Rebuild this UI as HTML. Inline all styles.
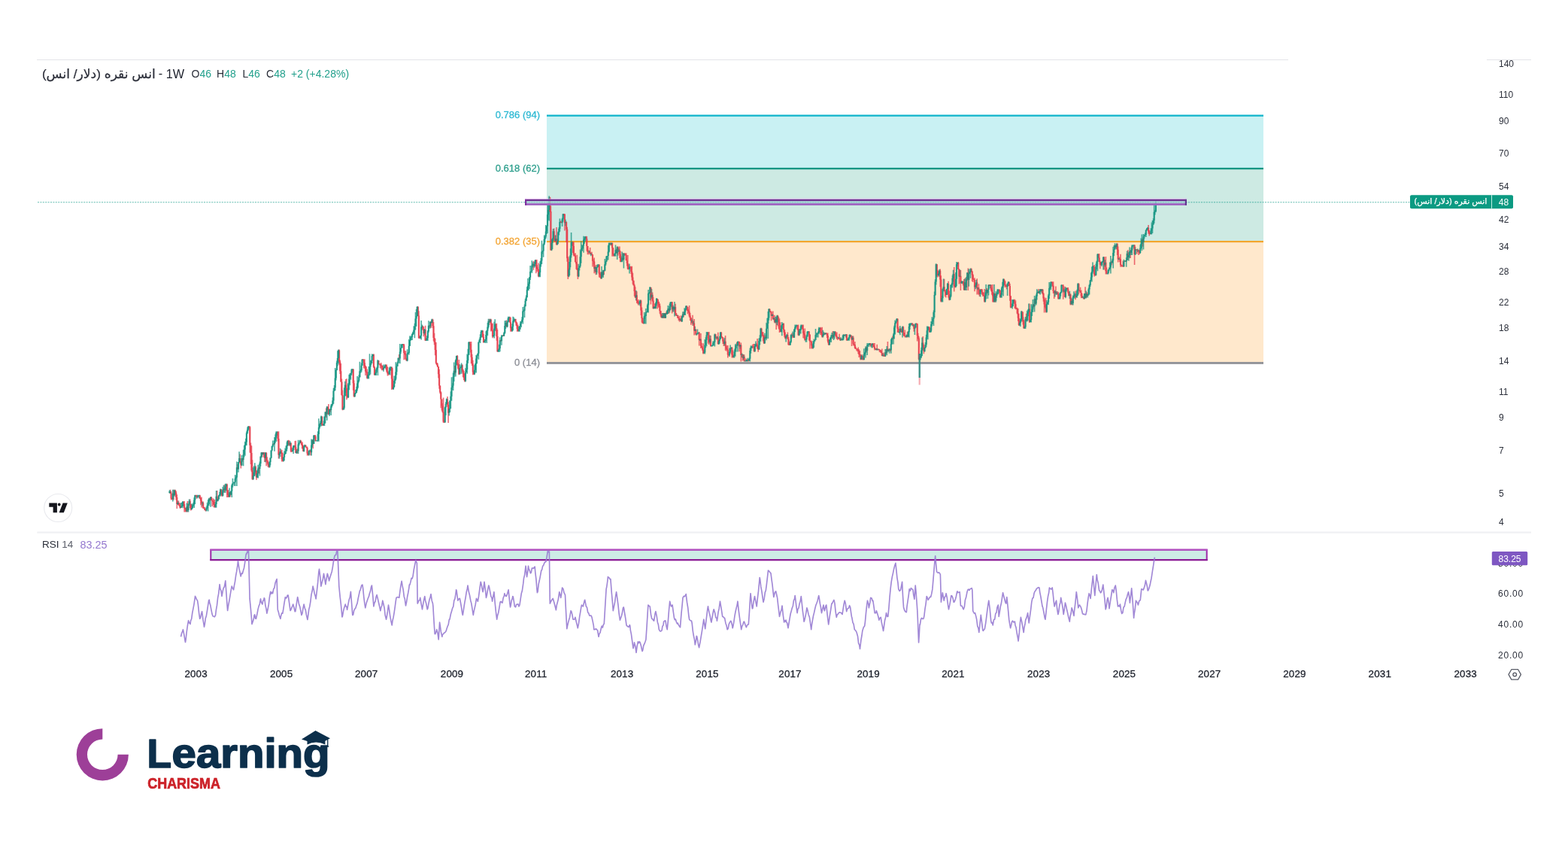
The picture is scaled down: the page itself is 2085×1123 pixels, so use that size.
<!DOCTYPE html>
<html lang="fa">
<head>
<meta charset="utf-8">
<title>انس نقره (دلار/ انس) - 1W</title>
<style>
html,body{margin:0;padding:0;background:#fff;}
body{width:2085px;height:1123px;position:relative;overflow:hidden;font-family:"Liberation Sans","DejaVu Sans",sans-serif;}
svg{position:absolute;left:0;top:0;display:block;}
svg text{font-family:"Liberation Sans","DejaVu Sans",sans-serif;}
.ax text{font-size:12px;fill:#2b2f3a;}
.tm text{font-size:13.4px;fill:#1c202b;stroke:#1c202b;stroke-width:.3px;text-anchor:middle;letter-spacing:.15px;}
.fa{-webkit-text-stroke:.25px currentColor;position:absolute;white-space:nowrap;direction:rtl;unicode-bidi:isolate;font-family:"Liberation Sans","DejaVu Sans",sans-serif;line-height:1;}
#ttl{left:55.9px;top:90.2px;width:154px;font-size:17.15px;color:#2c2f3a;text-align:left;}
#plbl{left:1876px;top:262.2px;width:106px;font-size:11px;color:#fff;text-align:center;}
</style>
</head>
<body>
<svg width="2085" height="1123" viewBox="0 0 2085 1123">
<defs><filter id="bl" x="-2%" y="-2%" width="104%" height="104%"><feGaussianBlur stdDeviation="0.7"/></filter><filter id="bl2" x="-2%" y="-5%" width="104%" height="110%"><feGaussianBlur stdDeviation="0.45"/></filter></defs>
<rect width="2085" height="1123" fill="#fff"/>
<!-- borders -->
<rect x="49" y="79" width="1664" height="1" fill="#e3e4e8"/>
<rect x="1977" y="79" width="59" height="1" fill="#e3e4e8"/>
<rect x="49.3" y="706.5" width="1986.7" height="2.2" fill="#eff0f3"/>

<!-- fib zones -->
<rect x="727" y="153.5" width="953" height="70" fill="#c9f1f3"/>
<rect x="727" y="223.5" width="953" height="97.5" fill="#cdeae3"/>
<rect x="727" y="321" width="953" height="161" fill="#ffe8cc"/>
<rect x="727" y="152.5" width="953" height="2.3" fill="#12b5cb"/>
<rect x="727" y="222.9" width="953" height="2.3" fill="#0f9683"/>
<rect x="727" y="320" width="953" height="2.2" fill="#f2a62e"/>
<rect x="727" y="481" width="953" height="2.9" fill="#939499"/>
<g font-size="13" text-anchor="end" stroke-width=".3">
<text x="718" y="157.4" fill="#2fb9d3" stroke="#2fb9d3">0.786 (94)</text>
<text x="718" y="227.6" fill="#2e9f8d" stroke="#2e9f8d">0.618 (62)</text>
<text x="718" y="325.2" fill="#f3a534" stroke="#f3a534">0.382 (35)</text>
<text x="718" y="486.3" fill="#8c8e96" stroke="#8c8e96">0 (14)</text>
</g>

<!-- last price dotted line -->
<line x1="50" y1="268.7" x2="1875" y2="268.7" stroke="#0d9a84" stroke-opacity=".45" stroke-width="1.6" stroke-dasharray="2 1.4"/>

<!-- candles -->
<g id="candles">
<g filter="url(#bl)" style="isolation:isolate">
<path d="M226.6 650.8V656.1M227.6 652.9V664.4M228.7 661.5V663.9M230.9 650.8V664.4M233.1 650.8V657.4M234.2 652.8V664.5M235.3 657.2V676.0M237.5 665.6V671.8M238.5 668.0V673.6M239.6 669.0V675.9M244.0 665.9V673.1M245.1 665.9V680.6M246.2 674.5V680.6M247.3 674.9V680.6M249.4 665.9V680.6M252.7 663.5V675.2M253.8 669.8V678.6M260.3 657.8V659.8M261.4 657.8V662.7M265.8 657.8V662.9M266.9 661.1V671.2M268.0 660.4V674.4M270.2 666.6V676.1M271.2 673.9V676.0M272.3 673.7V678.0M273.4 676.6V679.4M278.9 661.8V666.1M281.1 660.1V665.1M282.2 664.5V673.0M283.2 662.2V670.9M284.3 663.2V674.2M285.4 664.1V674.8M288.7 652.0V666.5M294.1 650.0V658.6M295.2 652.7V659.8M298.5 644.3V654.7M301.8 642.7V660.9M302.9 651.0V660.9M304.0 656.4V660.9M306.1 653.5V660.6M315.9 617.0V623.6M319.2 603.6V616.2M320.3 612.9V622.4M322.5 609.0V613.6M331.2 566.3V569.3M332.3 566.3V601.4M333.4 588.6V617.0M334.5 592.6V627.3M335.6 611.2V637.8M339.9 619.0V630.9M341.0 625.3V637.8M344.3 620.8V629.5M348.6 601.0V607.7M350.8 601.0V607.7M351.9 601.0V614.1M354.1 601.0V619.3M355.2 607.3V615.5M356.3 611.3V620.5M357.4 615.6V621.6M363.9 589.1V590.8M369.4 573.3V586.4M370.5 573.3V609.4M373.7 597.2V603.0M374.8 598.1V613.5M375.9 601.6V613.5M383.5 584.8V592.4M384.6 585.3V592.4M386.8 588.3V600.9M387.9 594.4V601.1M392.3 586.0V598.0M393.3 585.8V602.2M395.5 596.3V602.7M399.9 584.8V589.3M401.0 586.8V591.9M402.1 587.5V596.8M403.2 591.8V599.9M406.4 591.5V594.1M407.5 593.5V595.5M408.6 593.6V605.4M409.7 601.2V605.4M413.0 597.5V605.3M416.2 583.7V596.2M418.4 577.9V583.3M419.5 577.9V586.8M428.2 553.4V566.0M429.3 563.9V565.9M433.7 542.4V554.9M435.9 540.5V544.7M436.9 536.9V551.3M439.1 543.3V547.6M451.1 464.5V485.2M452.2 478.5V496.9M453.3 483.1V507.6M454.4 503.6V525.7M455.5 518.6V545.2M459.8 504.0V522.1M460.9 503.2V531.3M462.0 524.5V529.2M469.7 489.9V518.7M470.7 505.4V527.8M482.7 477.3V479.0M483.8 477.2V489.6M484.9 477.2V489.7M486.0 485.8V499.0M487.1 487.2V496.2M488.2 490.5V503.5M496.9 470.2V488.9M498.0 486.8V498.9M503.4 479.0V484.6M504.5 483.2V485.6M505.6 483.8V489.2M506.7 482.0V490.4M507.8 485.6V492.3M508.9 485.6V492.3M513.3 484.2V491.2M514.3 484.5V494.9M515.4 487.5V499.4M516.5 494.5V498.9M520.9 487.3V518.0M522.0 489.3V517.3M530.7 470.9V478.7M536.2 457.0V459.2M537.2 457.0V478.3M538.3 466.0V472.1M539.4 466.3V477.9M540.5 475.8V479.7M555.8 407.0V420.1M556.9 413.3V449.9M558.0 447.3V449.9M562.3 432.8V439.2M563.4 434.3V447.2M565.6 432.8V452.9M571.0 432.2V436.6M573.2 426.7V435.8M575.4 423.7V436.0M576.5 427.9V453.2M577.6 442.8V458.2M578.7 450.1V472.2M579.8 455.0V483.7M580.8 482.0V485.4M581.9 482.6V488.1M583.0 486.9V502.6M584.1 490.8V516.7M585.2 512.4V523.3M586.3 520.3V542.3M587.4 530.5V545.5M588.5 536.0V548.4M589.6 528.6V561.9M590.7 557.9V561.9M595.0 526.9V540.8M596.1 534.2V561.9M604.8 485.9V497.7M608.1 472.1V485.9M609.2 482.8V490.9M610.3 477.9V498.3M614.6 484.2V494.3M615.7 490.6V501.2M616.8 492.9V505.0M617.9 496.3V507.4M624.5 454.0V459.3M625.5 454.0V468.5M626.6 454.0V483.3M627.7 470.8V486.0M628.8 478.8V498.3M629.9 492.6V498.1M641.9 438.8V448.7M643.0 443.8V455.8M650.6 423.7V432.0M652.8 423.7V440.5M653.9 429.5V440.0M655.0 429.5V449.3M659.3 429.7V440.2M660.4 429.7V452.8M661.5 438.1V468.1M665.9 451.4V453.4M669.1 444.9V446.9M673.5 425.6V434.8M677.9 420.7V428.7M679.0 421.7V440.8M680.0 435.3V440.8M685.5 423.7V429.5M686.6 427.3V433.3M687.7 429.3V440.8M688.8 431.4V440.8M709.5 347.0V358.7M712.8 345.0V363.3M713.8 345.1V361.3M714.9 355.0V360.6M716.0 349.4V368.2M731.3 261.7V282.0M732.4 273.5V332.9M736.7 303.5V320.5M737.8 312.8V322.0M740.0 302.0V325.8M745.5 293.4V296.0M746.5 295.3V296.4M749.8 283.9V287.1M750.9 283.9V306.6M753.1 294.3V322.1M754.2 301.8V347.8M755.3 340.9V371.0M761.8 321.3V336.3M762.9 321.6V340.6M764.0 337.1V340.8M765.1 336.3V348.7M766.2 347.7V357.8M767.3 338.8V359.1M768.4 356.9V371.0M779.3 313.8V318.6M780.3 313.9V333.4M781.4 326.9V338.3M782.5 332.2V338.3M784.7 329.0V338.3M786.9 334.8V339.1M788.0 338.2V354.6M789.1 344.2V351.6M790.2 342.4V363.2M792.3 351.9V365.3M796.7 351.2V368.5M797.8 362.3V368.9M798.9 361.2V370.7M801.1 361.1V368.1M803.2 359.0V364.9M812.0 322.5V326.2M814.1 322.5V340.8M815.2 329.0V340.8M816.3 338.0V340.8M819.6 330.8V336.5M821.8 327.5V339.7M823.9 327.5V343.1M825.0 333.4V348.2M828.3 336.3V345.9M830.5 336.3V339.9M831.6 336.3V339.6M832.7 336.3V346.3M833.8 343.6V353.4M834.8 339.1V358.2M835.9 351.6V358.2M838.1 353.7V355.3M839.2 353.7V364.0M840.3 353.7V372.5M841.4 362.9V377.7M842.5 372.5V379.6M843.6 377.6V393.7M844.7 381.2V395.9M846.8 387.2V403.1M847.9 399.2V404.2M849.0 397.9V405.8M852.3 398.6V418.9M853.4 408.6V428.6M854.5 422.0V429.7M855.6 426.6V430.5M865.4 381.7V404.5M867.6 388.4V400.8M868.6 394.8V410.6M870.8 403.2V410.1M874.1 396.8V410.6M875.2 397.9V408.8M876.3 400.9V408.4M877.4 403.4V416.7M878.5 413.0V420.4M879.5 417.2V422.6M881.7 416.1V423.0M883.9 416.1V423.0M886.1 413.9V418.1M889.4 409.9V416.7M893.7 401.1V416.4M895.9 407.5V414.3M898.1 403.8V419.1M899.2 416.2V420.0M901.3 418.6V422.8M902.4 421.1V426.0M903.5 419.8V427.7M905.7 419.2V427.6M909.0 414.2V421.4M913.3 406.1V413.0M914.4 408.1V417.2M915.5 411.0V416.0M916.6 406.1V421.5M917.7 416.1V425.9M918.8 422.1V431.7M921.0 418.7V432.7M923.1 423.9V445.5M925.3 437.5V445.5M929.7 441.0V459.5M931.9 443.0V463.1M933.0 455.8V462.1M934.1 460.2V465.9M935.1 456.3V470.4M941.7 441.0V456.5M942.8 441.0V458.1M945.0 446.0V460.5M951.5 443.8V450.0M952.6 446.9V451.5M954.8 441.7V457.8M959.1 441.0V448.6M960.2 446.9V449.8M961.3 448.1V457.1M962.4 451.1V459.9M964.6 446.1V465.7M965.7 458.5V466.8M966.8 461.6V465.3M967.8 459.1V475.4M968.9 471.3V473.2M973.3 460.9V475.4M974.4 465.6V475.4M979.8 454.7V459.5M982.0 453.5V454.6M983.1 453.8V467.3M985.3 455.4V480.4M987.5 470.4V479.5M989.6 471.3V480.5M991.8 476.4V480.5M995.1 477.5V480.5M1000.5 458.2V462.9M1001.6 457.1V462.5M1002.7 457.1V467.7M1006.0 456.1V460.6M1007.1 450.1V463.9M1008.2 459.8V467.7M1012.5 435.8V447.5M1013.6 440.9V447.0M1014.7 441.3V453.4M1015.8 445.5V457.0M1018.0 445.6V450.1M1023.4 410.1V414.3M1024.5 412.9V415.5M1025.6 413.4V426.2M1027.8 413.4V424.7M1030.0 418.7V429.2M1032.2 421.6V438.0M1034.3 418.7V433.5M1035.4 421.2V436.8M1036.5 423.2V442.0M1037.6 428.3V441.3M1042.0 429.3V441.7M1043.1 437.7V448.3M1044.2 441.5V450.5M1047.4 441.5V450.8M1048.5 447.9V459.1M1049.6 454.8V459.1M1052.9 442.8V449.4M1055.1 442.4V448.8M1060.5 431.8V438.8M1061.6 431.5V446.3M1067.0 431.5V437.9M1068.1 431.5V449.3M1069.2 439.8V449.7M1070.3 436.6V452.7M1075.8 440.0V452.5M1076.9 444.0V463.4M1077.9 453.5V454.7M1079.0 452.5V463.4M1080.1 458.3V463.4M1091.0 434.7V445.1M1092.1 435.4V445.4M1093.2 434.7V448.4M1096.5 442.6V445.1M1098.7 442.2V443.9M1099.8 442.4V449.1M1100.8 442.5V455.5M1101.9 451.0V459.1M1107.4 440.0V450.2M1110.7 440.0V446.3M1111.7 441.9V447.8M1112.8 441.5V451.0M1113.9 448.0V452.1M1116.1 443.7V451.0M1117.2 448.6V452.7M1119.4 450.3V452.0M1122.6 444.8V446.9M1125.9 444.3V452.7M1131.4 445.3V449.4M1132.5 446.4V459.9M1134.6 446.4V459.2M1135.7 456.3V459.8M1136.8 454.0V463.5M1137.9 460.7V464.1M1139.0 463.2V466.3M1140.1 463.2V467.3M1141.2 461.4V470.3M1142.3 464.2V475.0M1143.4 466.1V473.7M1144.4 470.7V478.4M1146.6 471.3V478.4M1147.7 473.4V478.4M1152.1 460.8V468.3M1157.5 456.1V460.7M1160.8 456.1V461.9M1161.9 456.1V461.1M1163.0 456.1V465.5M1164.1 462.7V465.1M1166.2 457.8V465.5M1168.4 463.5V465.5M1169.5 463.9V467.9M1170.6 464.9V468.2M1171.7 465.4V469.2M1172.8 463.5V473.2M1175.0 468.5V474.1M1176.1 470.1V474.1M1178.2 464.2V471.0M1180.4 454.0V466.8M1183.7 463.5V467.3M1187.0 446.6V451.4M1193.5 422.9V442.0M1194.6 434.4V442.0M1197.9 435.6V441.5M1199.0 439.0V442.1M1201.1 433.6V445.8M1202.2 441.9V446.8M1203.3 438.5V448.4M1204.4 446.7V448.4M1206.6 440.7V448.4M1213.1 429.3V432.6M1215.3 430.4V440.7M1218.6 429.3V431.5M1219.7 429.8V453.5M1220.8 442.8V451.0M1221.8 447.2V478.4M1227.3 446.9V464.4M1228.4 457.7V470.2M1234.9 433.9V437.8M1236.0 434.2V442.0M1245.8 351.1V367.8M1246.9 358.7V368.4M1250.2 357.5V381.3M1251.3 366.2V401.4M1255.6 370.8V387.0M1256.7 385.0V394.3M1257.8 388.1V395.6M1261.1 373.8V395.7M1262.2 386.4V399.3M1268.7 355.0V387.5M1269.8 378.5V382.2M1274.2 348.1V358.3M1275.3 357.2V377.4M1277.4 359.0V386.0M1280.7 373.4V379.6M1281.8 370.9V386.0M1284.0 368.9V386.0M1287.3 356.6V386.0M1291.6 356.6V361.7M1292.7 359.9V374.1M1293.8 364.3V375.0M1294.9 370.2V372.4M1296.0 369.2V387.3M1299.2 370.3V391.4M1301.4 377.2V391.9M1302.5 384.3V393.9M1304.7 384.0V387.8M1305.8 384.0V391.6M1306.9 388.3V394.1M1308.0 388.6V393.8M1309.1 384.0V401.7M1312.3 383.1V390.4M1315.6 378.1V379.9M1317.8 378.1V386.7M1318.9 382.2V391.8M1320.0 378.1V401.6M1321.0 389.1V401.7M1323.2 390.0V401.7M1328.7 384.2V389.2M1329.8 385.3V395.8M1335.2 370.5V378.7M1336.3 372.7V381.9M1337.4 377.9V381.8M1338.5 378.8V384.5M1341.8 374.2V380.1M1342.9 377.0V399.8M1343.9 392.9V409.5M1348.3 397.7V401.9M1349.4 397.7V410.1M1350.5 399.3V411.2M1351.6 408.8V411.1M1352.7 408.7V417.5M1353.8 409.9V426.9M1354.8 416.7V433.0M1359.2 413.4V427.8M1360.3 414.4V431.5M1361.4 425.1V437.0M1364.7 416.7V426.7M1369.0 403.6V429.1M1374.5 404.5V408.6M1376.6 396.8V404.1M1381.0 384.0V389.9M1384.3 384.0V388.1M1386.5 384.0V391.6M1387.5 389.1V400.8M1388.6 394.7V415.4M1389.7 398.4V409.8M1390.8 395.8V415.4M1398.4 374.2V376.8M1399.5 374.2V381.0M1400.6 374.2V389.9M1401.7 386.6V397.1M1403.9 380.4V391.7M1406.1 387.2V391.3M1407.2 388.1V397.8M1412.6 378.6V380.3M1413.7 378.1V397.8M1415.9 380.8V394.8M1419.2 382.1V385.5M1420.3 382.1V390.3M1421.3 387.5V393.4M1423.5 390.2V405.6M1425.7 397.3V405.6M1430.1 386.4V398.2M1434.4 376.2V391.2M1435.5 384.9V387.2M1436.6 381.8V389.0M1437.7 385.5V396.3M1438.8 390.0V395.9M1441.0 394.9V397.8M1443.1 381.3V396.2M1445.3 388.2V395.3M1454.0 353.3V355.1M1455.1 352.1V367.4M1456.2 364.6V366.4M1460.6 337.0V343.1M1461.7 337.0V348.2M1462.8 346.3V357.2M1463.9 348.1V352.7M1468.2 340.9V358.6M1470.4 340.9V364.4M1471.5 355.5V364.5M1478.0 347.3V352.6M1483.5 325.8V329.7M1485.7 323.3V338.9M1486.7 327.4V348.4M1488.9 341.3V348.2M1490.0 337.8V354.7M1491.1 351.5V354.7M1492.2 352.2V354.6M1493.3 346.5V354.7M1496.6 346.0V347.6M1499.8 332.2V345.5M1503.1 332.0V343.1M1508.6 325.2V352.0M1510.7 331.3V332.9M1511.8 330.9V337.5M1514.0 331.7V339.0M1515.1 332.9V338.0M1519.5 316.8V327.7M1527.1 298.9V310.8M1528.2 306.1V313.5M1529.3 309.4V311.5" stroke="#e63a49" stroke-width="1.6" fill="none" opacity=".75"/>
<path d="M225.5 651.2V655.7M229.8 650.8V666.4M232.0 650.8V659.8M236.4 665.5V671.1M240.7 667.9V675.1M241.8 668.0V673.7M242.9 665.9V675.2M248.4 668.6V680.6M250.5 669.3V680.6M251.6 663.5V671.9M254.9 669.4V677.2M256.0 669.5V676.0M257.1 667.7V673.2M258.2 661.2V674.9M259.3 657.8V670.1M262.5 657.8V662.2M263.6 657.8V660.2M264.7 657.8V662.3M269.1 666.8V672.2M274.5 673.6V679.4M275.6 667.8V676.7M276.7 664.2V679.4M277.8 661.7V672.3M280.0 660.1V673.7M286.5 667.3V674.8M287.6 651.9V674.8M289.8 662.8V666.2M290.9 658.0V663.8M292.0 653.7V659.5M293.1 649.6V659.8M296.3 647.0V659.8M297.4 644.8V654.8M299.6 642.7V655.1M300.7 642.7V652.5M305.0 648.4V660.9M307.2 652.3V658.2M308.3 643.2V660.9M309.4 635.8V647.8M310.5 640.3V642.4M311.6 640.7V645.7M312.7 631.0V645.9M313.8 632.3V638.7M314.9 613.5V645.9M317.0 613.9V627.7M318.1 600.3V614.3M321.4 604.9V619.2M323.6 597.7V619.2M324.7 592.1V607.5M325.8 586.7V605.8M326.8 582.7V592.4M327.9 573.2V592.1M329.0 567.7V576.8M330.1 566.3V572.6M336.7 621.3V637.8M337.7 619.2V632.8M338.8 615.2V633.1M342.1 624.7V634.9M343.2 617.8V635.4M345.4 613.4V632.5M346.5 606.2V619.8M347.6 601.0V608.4M349.7 601.0V604.5M353.0 601.0V614.2M358.5 612.9V621.6M359.5 608.3V618.3M360.6 598.6V609.3M361.7 592.8V599.6M362.8 585.6V594.3M365.0 580.9V599.7M366.1 577.3V588.8M367.2 573.3V587.0M368.3 573.3V578.9M371.5 601.0V609.5M372.6 595.7V607.1M377.0 607.3V613.5M378.1 599.2V612.3M379.2 595.4V604.0M380.3 592.4V603.1M381.4 587.6V599.5M382.4 585.5V593.0M385.7 586.3V593.1M389.0 595.6V600.3M390.1 591.8V603.0M391.2 591.8V594.8M394.4 596.9V603.0M396.6 584.8V603.0M397.7 588.3V592.2M398.8 584.8V588.4M404.2 592.3V600.5M405.3 590.7V594.5M410.8 598.6V605.4M411.9 597.5V600.2M414.1 583.4V605.4M415.1 583.9V594.6M417.3 577.9V590.1M420.6 585.3V586.1M421.7 585.5V586.8M422.8 573.2V586.8M423.9 556.2V586.8M425.0 562.9V569.8M426.0 559.5V566.4M427.1 552.4V566.5M430.4 559.3V566.0M431.5 553.4V566.0M432.6 547.3V562.6M434.8 539.7V558.7M438.0 543.6V552.9M440.2 537.4V552.1M441.3 536.7V541.5M442.4 528.3V538.7M443.5 515.9V536.7M444.6 512.0V519.7M445.7 489.1V519.0M446.8 490.7V505.4M447.9 479.4V492.2M448.9 466.2V486.6M450.0 464.5V483.6M456.6 540.2V544.7M457.7 515.2V544.3M458.8 506.8V526.4M463.1 508.9V529.0M464.2 497.7V518.2M465.3 496.1V512.3M466.4 495.6V504.8M467.5 489.9V498.9M468.6 489.9V494.7M471.8 522.4V527.8M472.9 518.0V523.8M474.0 513.7V522.3M475.1 500.1V519.6M476.2 505.1V515.6M477.3 498.2V507.7M478.4 480.7V501.5M479.5 490.6V495.7M480.6 482.5V494.8M481.6 477.2V485.9M489.3 497.4V503.5M490.4 487.0V503.5M491.5 470.2V498.9M492.5 478.8V497.6M493.6 478.4V485.1M494.7 470.2V482.9M495.8 471.0V473.7M499.1 494.6V498.9M500.2 489.6V498.9M501.3 487.6V494.4M502.4 478.1V498.9M510.0 484.6V493.8M511.1 487.0V489.3M512.2 484.2V489.5M517.6 488.2V497.7M518.7 486.9V498.6M519.8 487.3V492.6M523.1 510.7V518.0M524.2 499.4V514.9M525.3 499.5V509.8M526.3 481.2V505.2M527.4 484.1V498.4M528.5 480.4V487.0M529.6 475.6V483.2M531.8 457.0V483.2M532.9 462.2V470.2M534.0 457.0V462.5M535.1 457.0V462.6M541.6 464.2V480.2M542.7 467.8V471.1M543.8 450.9V471.6M544.9 446.5V460.1M546.0 446.2V453.0M547.1 446.8V451.9M548.1 443.2V452.0M549.2 440.7V445.1M550.3 433.3V444.4M551.4 429.7V449.2M552.5 414.9V438.4M553.6 411.0V433.8M554.7 407.0V420.7M559.0 445.8V449.9M560.1 425.9V451.6M561.2 431.4V435.7M564.5 437.1V445.3M566.7 449.6V452.9M567.8 446.3V452.9M568.9 439.1V452.9M569.9 426.3V442.0M572.1 427.2V436.6M574.3 423.7V429.3M591.7 540.6V561.9M592.8 534.2V552.0M593.9 529.6V536.9M597.2 542.6V552.5M598.3 532.3V548.1M599.4 520.2V542.9M600.5 501.2V532.8M601.6 509.2V517.9M602.6 495.5V518.9M603.7 481.5V506.9M605.9 477.5V500.6M607.0 472.7V484.9M611.4 484.2V497.5M612.5 486.9V489.4M613.6 482.5V496.7M619.0 489.0V507.4M620.1 483.4V494.9M621.2 470.4V496.7M622.3 463.8V482.7M623.4 454.0V472.1M631.0 485.2V498.3M632.1 482.4V495.3M633.2 472.0V495.6M634.3 471.3V483.3M635.4 469.5V472.8M636.4 454.3V477.7M637.5 450.2V454.8M638.6 444.3V456.0M639.7 438.8V449.0M640.8 438.8V442.0M644.1 452.8V455.1M645.2 450.7V456.0M646.3 440.3V454.5M647.3 438.7V456.0M648.4 428.9V446.3M649.5 423.7V436.6M651.7 423.7V429.1M656.1 445.0V447.5M657.2 427.6V449.5M658.2 424.3V439.5M662.6 464.2V467.7M663.7 457.8V468.1M664.8 448.2V467.2M667.0 444.9V458.7M668.1 445.6V447.5M670.2 441.2V446.9M671.3 426.2V443.7M672.4 425.9V437.0M674.6 426.6V435.3M675.7 420.7V428.3M676.8 420.7V426.6M681.1 430.3V440.8M682.2 420.7V439.2M683.3 421.8V428.6M684.4 423.7V426.9M689.9 433.7V440.8M691.0 433.3V440.8M692.0 427.1V437.8M693.1 426.7V434.9M694.2 421.2V428.4M695.3 408.0V430.5M696.4 411.3V414.5M697.5 404.4V421.9M698.6 397.0V407.3M699.7 392.6V400.2M700.8 381.2V395.3M701.9 370.1V386.3M702.9 375.0V386.3M704.0 368.0V384.1M705.1 353.0V371.9M706.2 360.1V361.5M707.3 346.3V363.1M708.4 348.4V355.4M710.6 347.9V355.8M711.7 345.0V354.2M717.1 360.5V368.2M718.2 347.3V368.2M719.3 343.1V354.6M720.4 319.8V350.9M721.5 333.1V337.4M722.6 323.6V341.7M723.7 312.6V325.8M724.7 312.6V322.2M725.8 298.9V316.7M726.9 299.9V310.9M728.0 270.5V309.9M729.1 270.8V292.6M730.2 260.5V293.4M733.5 317.9V333.3M734.6 316.3V331.0M735.6 304.1V320.2M738.9 312.6V321.0M741.1 317.5V325.8M742.2 307.6V324.3M743.3 301.9V312.5M744.4 290.5V307.8M747.6 289.7V301.0M748.7 283.9V294.6M752.0 291.8V300.3M756.4 356.4V368.2M757.4 340.8V366.0M758.5 330.3V355.2M759.6 309.0V342.5M760.7 321.3V326.6M769.4 350.8V368.2M770.5 353.3V359.4M771.6 331.6V355.4M772.7 320.5V349.8M773.8 325.0V333.8M774.9 325.8V330.9M776.0 313.8V335.8M777.1 314.5V324.0M778.2 313.9V320.8M783.6 332.9V336.3M785.8 336.2V340.3M791.2 354.1V361.0M793.4 354.7V364.9M794.5 351.3V356.1M795.6 351.2V355.0M800.0 354.1V370.7M802.1 358.7V369.0M804.3 344.0V360.6M805.4 346.4V353.1M806.5 340.1V348.2M807.6 340.0V345.7M808.7 326.0V345.5M809.8 322.6V335.6M810.9 322.5V325.5M813.0 322.5V326.2M817.4 336.2V340.8M818.5 325.5V340.8M820.7 327.5V345.0M822.9 330.4V334.9M826.1 340.6V348.2M827.2 334.5V348.2M829.4 336.3V356.6M837.0 350.5V363.4M845.8 386.1V399.2M850.1 400.6V405.0M851.2 398.6V406.7M856.7 415.1V430.5M857.7 417.7V424.1M858.8 410.0V430.5M859.9 413.8V415.6M861.0 403.6V415.6M862.1 385.0V415.6M863.2 387.9V390.7M864.3 381.1V399.2M866.5 384.0V397.2M869.7 407.3V410.6M871.9 401.5V410.6M873.0 396.1V406.2M880.6 416.1V423.0M882.8 416.1V423.0M885.0 416.1V423.0M887.2 412.3V418.1M888.3 406.0V417.0M890.4 403.7V415.5M891.5 401.1V412.0M892.6 401.1V408.2M894.8 405.2V414.5M897.0 401.1V420.6M900.3 418.6V419.6M904.6 423.3V426.2M906.8 420.0V428.0M907.9 414.3V422.3M910.1 409.3V419.0M911.2 410.2V418.9M912.2 406.1V412.1M919.9 423.7V429.3M922.1 426.4V432.7M924.2 433.7V440.0M926.4 442.8V445.7M927.5 437.6V444.6M928.6 441.4V444.3M930.8 450.4V453.1M936.2 465.5V469.5M937.3 450.9V470.4M938.4 448.3V462.2M939.5 441.0V460.2M940.6 441.0V445.6M943.9 445.5V456.2M946.0 458.0V460.5M947.1 459.3V460.5M948.2 453.2V459.6M949.3 453.6V459.2M950.4 443.5V460.5M953.7 446.9V450.8M955.9 452.1V458.0M956.9 446.8V456.6M958.0 441.0V451.3M963.5 448.7V459.4M970.0 462.6V473.9M971.1 458.5V469.8M972.2 461.4V463.9M975.5 471.4V475.4M976.6 464.6V475.4M977.7 457.6V473.7M978.7 456.7V467.7M980.9 453.5V467.4M984.2 458.4V463.5M986.4 469.3V474.9M988.6 471.0V478.0M990.7 479.4V480.5M992.9 477.7V480.5M994.0 475.7V480.5M996.2 475.5V479.6M997.3 462.7V480.5M998.4 459.3V469.8M999.5 459.8V463.1M1003.8 457.1V467.7M1004.9 453.4V461.0M1009.3 449.6V464.8M1010.4 445.3V458.5M1011.5 435.8V454.1M1016.9 442.7V457.0M1019.1 428.7V452.3M1020.2 422.8V436.8M1021.3 413.9V450.1M1022.4 410.1V425.8M1026.7 417.4V419.9M1028.9 422.0V425.6M1031.1 420.8V429.5M1033.3 418.7V432.0M1038.7 432.6V441.6M1039.8 428.0V446.3M1040.9 429.8V431.7M1045.2 446.0V454.5M1046.3 443.9V448.7M1050.7 453.2V459.1M1051.8 444.3V455.7M1054.0 440.5V447.7M1056.1 436.9V448.7M1057.2 431.5V441.2M1058.3 431.5V436.6M1059.4 431.6V433.8M1062.7 437.1V446.3M1063.8 436.9V443.2M1064.9 431.5V443.6M1066.0 431.5V436.1M1071.4 449.7V454.8M1072.5 444.7V454.7M1073.6 440.0V448.1M1074.7 440.0V442.9M1081.2 453.0V463.4M1082.3 450.6V462.0M1083.4 451.6V453.7M1084.5 437.1V452.1M1085.6 441.9V448.4M1086.7 442.6V448.2M1087.8 440.6V448.4M1088.9 434.7V443.9M1089.9 435.6V442.3M1094.3 438.7V448.4M1095.4 441.0V445.9M1097.6 442.2V444.5M1103.0 451.1V459.1M1104.1 448.4V454.6M1105.2 445.1V455.1M1106.3 442.0V450.2M1108.5 440.0V452.0M1109.6 440.2V450.6M1115.0 447.8V450.1M1118.3 448.4V452.7M1120.5 445.5V452.7M1121.6 444.3V452.0M1123.7 444.6V446.6M1124.8 444.3V448.6M1127.0 449.6V452.7M1128.1 448.5V452.7M1129.2 444.7V452.7M1130.3 444.3V447.8M1133.5 446.4V451.5M1145.5 471.4V478.0M1148.8 463.2V478.4M1149.9 467.5V473.1M1151.0 460.2V475.5M1153.2 456.1V471.9M1154.3 457.8V459.8M1155.3 456.1V460.9M1156.4 456.1V459.1M1158.6 457.4V461.8M1159.7 456.1V462.6M1165.2 463.0V465.5M1167.3 463.5V465.5M1173.9 469.4V473.4M1177.2 464.0V474.1M1179.3 460.0V472.2M1181.5 464.1V467.4M1182.6 463.1V469.8M1184.8 450.8V469.8M1185.9 448.6V458.1M1188.1 442.7V457.6M1189.1 432.7V450.6M1190.2 425.6V444.4M1191.3 427.1V430.2M1192.4 422.9V427.3M1195.7 440.8V443.0M1196.8 433.0V445.2M1200.0 433.6V448.4M1205.5 444.6V448.4M1207.7 440.1V447.5M1208.8 430.0V448.4M1209.9 429.3V438.1M1210.9 429.3V431.9M1212.0 429.3V432.4M1214.2 430.7V434.0M1216.4 431.4V444.9M1217.5 429.5V435.6M1222.9 474.6V478.4M1224.0 473.0V478.4M1225.1 461.8V476.0M1226.2 448.6V473.1M1229.5 462.0V467.7M1230.6 455.0V462.9M1231.7 444.7V460.7M1232.7 433.6V451.1M1233.8 433.4V451.2M1237.1 436.0V442.0M1238.2 427.1V441.6M1239.3 421.2V433.6M1240.4 422.3V430.7M1241.5 412.4V433.0M1242.6 387.6V422.1M1243.6 371.2V393.0M1244.7 350.3V378.6M1248.0 362.1V366.4M1249.1 358.1V367.9M1252.4 393.0V401.4M1253.5 383.3V401.4M1254.6 370.6V387.3M1258.9 383.7V392.0M1260.0 375.9V384.5M1263.3 391.5V399.1M1264.4 378.0V395.3M1265.5 375.9V382.2M1266.5 365.8V382.4M1267.6 358.8V374.6M1270.9 362.1V382.2M1272.0 348.1V380.2M1273.1 348.7V353.8M1276.4 358.5V368.1M1278.5 373.0V376.4M1279.6 373.6V377.2M1282.9 370.3V386.0M1285.1 367.8V386.0M1286.2 362.1V372.7M1288.3 357.5V380.7M1289.4 360.4V364.2M1290.5 356.6V369.8M1297.1 376.4V384.2M1298.2 371.7V382.2M1300.3 382.3V385.2M1303.6 384.4V394.4M1310.1 388.6V401.7M1311.2 378.1V397.5M1313.4 385.0V396.9M1314.5 378.4V392.5M1316.7 378.1V383.2M1322.1 378.1V401.7M1324.3 387.3V401.7M1325.4 388.8V395.7M1326.5 384.0V391.3M1327.6 384.5V391.3M1330.9 389.6V395.8M1332.0 381.0V395.8M1333.0 374.8V387.7M1334.1 370.3V393.4M1339.6 376.4V392.9M1340.7 374.0V380.3M1345.0 407.4V408.9M1346.1 397.9V410.5M1347.2 398.0V407.1M1355.9 426.9V433.2M1357.0 423.2V433.9M1358.1 413.1V426.9M1362.5 432.7V437.0M1363.6 421.0V437.0M1365.7 412.8V427.4M1366.8 411.6V426.3M1367.9 403.6V416.6M1370.1 424.0V428.2M1371.2 404.2V428.6M1372.3 407.0V420.1M1373.4 398.1V415.0M1375.6 393.1V414.6M1377.7 391.6V405.6M1378.8 384.3V398.6M1379.9 385.8V389.7M1382.1 386.6V390.6M1383.2 384.0V391.4M1385.4 384.0V390.0M1391.9 399.1V415.4M1393.0 401.1V405.0M1394.1 390.8V405.3M1395.2 375.0V397.0M1396.3 377.6V385.3M1397.4 374.2V385.3M1402.8 385.4V394.4M1405.0 386.9V392.1M1408.3 394.7V397.8M1409.4 389.0V397.8M1410.4 387.7V393.8M1411.5 378.1V389.3M1414.8 383.5V388.4M1417.0 381.5V396.2M1418.1 382.5V387.5M1422.4 386.8V397.0M1424.6 395.8V404.7M1426.8 392.5V405.6M1427.9 387.3V396.7M1429.0 389.2V396.6M1431.2 390.3V395.8M1432.2 384.7V395.8M1433.3 376.2V392.9M1439.9 393.0V396.2M1442.1 390.0V397.8M1444.2 386.6V396.6M1446.4 390.7V395.4M1447.5 382.6V392.8M1448.6 377.4V391.6M1449.7 372.1V381.1M1450.8 362.4V373.9M1451.9 354.4V374.5M1453.0 348.6V363.6M1457.3 350.5V366.4M1458.4 346.4V357.9M1459.5 337.0V360.2M1464.9 347.4V354.0M1466.0 346.8V348.9M1467.1 340.9V358.5M1469.3 345.2V354.5M1472.6 362.4V364.5M1473.7 358.3V364.5M1474.8 355.5V360.5M1475.8 348.5V357.8M1476.9 339.9V363.6M1479.1 343.8V350.2M1480.2 328.1V356.6M1481.3 326.3V340.2M1482.4 323.3V331.7M1484.6 323.3V331.2M1487.8 342.8V345.2M1494.4 344.8V354.7M1495.5 346.0V347.7M1497.7 342.2V354.7M1498.7 333.6V345.9M1500.9 335.3V346.8M1502.0 328.6V343.2M1504.2 329.1V339.0M1505.3 325.2V339.0M1506.4 325.2V328.2M1507.5 325.2V330.5M1509.6 328.2V339.0M1512.9 330.5V335.1M1516.2 325.3V337.0M1517.3 316.4V330.8M1518.4 311.5V333.3M1520.5 310.9V331.6M1521.6 311.7V317.3M1522.7 309.4V313.7M1523.8 305.6V315.1M1524.9 302.9V306.8M1526.0 301.7V305.5M1530.4 303.2V311.5M1531.4 295.6V311.5M1532.5 292.9V310.1M1533.6 290.2V298.7M1534.7 271.7V296.8M1535.8 279.0V285.5M1536.9 266.4V282.2" stroke="#0f927f" stroke-width="1.6" fill="none" opacity=".75"/>
<path d="M226.6 653.0V655.4M227.6 655.4V662.6M228.7 662.6V663.4M230.9 655.8V658.2M233.1 651.8V654.9M234.2 654.9V661.0M235.3 661.0V670.0M237.5 668.0V670.9M238.5 670.9V672.1M239.6 672.1V675.0M244.0 666.9V669.9M245.1 669.9V674.9M246.2 674.9V677.1M247.3 677.1V679.6M249.4 673.6V677.9M252.7 665.9V670.6M253.8 670.6V677.2M260.3 658.0V658.6M261.4 658.6V660.5M265.8 658.4V662.3M266.9 662.3V665.6M268.0 665.6V669.2M270.2 668.5V675.3M271.2 675.1V675.7M272.3 675.7V678.0M273.4 677.9V678.5M278.9 663.1V664.2M281.1 661.1V664.7M282.2 664.7V665.5M283.2 665.5V667.1M284.3 667.1V670.7M285.4 670.7V673.8M288.7 659.8V665.6M294.1 650.6V655.3M295.2 655.3V658.8M298.5 649.4V651.5M301.8 643.7V651.5M302.9 651.5V657.8M304.0 657.8V659.9M306.1 654.2V657.6M315.9 621.3V623.6M319.2 609.0V615.1M320.3 615.1V618.2M322.5 609.0V610.9M331.2 566.8V567.4M332.3 567.4V591.8M333.4 591.8V602.0M334.5 602.0V625.2M335.6 625.2V636.8M339.9 620.6V626.5M341.0 626.5V634.4M344.3 622.4V623.0M348.6 601.5V603.4M350.8 601.5V604.1M351.9 604.1V608.7M354.1 602.0V613.0M355.2 612.9V613.5M356.3 613.5V617.4M357.4 617.4V620.6M363.9 590.0V590.6M369.4 574.3V583.1M370.5 583.1V604.4M373.7 599.7V601.9M374.8 601.9V610.3M375.9 610.3V612.5M383.5 585.8V589.7M384.6 589.7V591.1M386.8 588.7V599.2M387.9 599.2V599.8M392.3 592.2V594.3M393.3 594.3V602.0M395.5 599.0V599.6M399.9 585.8V589.1M401.0 589.1V590.8M402.1 590.8V595.9M403.2 595.9V599.7M406.4 591.5V593.9M407.5 593.9V595.3M408.6 595.3V602.5M409.7 602.5V604.4M413.0 598.7V601.3M416.2 585.2V590.1M418.4 578.9V580.1M419.5 580.1V586.0M428.2 553.4V564.0M429.3 564.0V565.0M433.7 547.6V550.4M435.9 540.7V543.5M436.9 543.5V551.1M439.1 544.0V545.0M451.1 465.5V480.7M452.2 480.7V493.2M453.3 493.2V507.4M454.4 507.4V525.0M455.5 525.0V544.2M459.8 511.8V515.8M460.9 515.8V526.0M462.0 526.0V528.0M469.7 490.9V509.3M470.7 509.3V526.8M482.7 477.6V478.2M483.8 478.2V482.3M484.9 482.3V486.8M486.0 486.8V493.4M487.1 493.4V494.4M488.2 494.4V502.5M496.9 471.2V487.8M498.0 487.8V497.9M503.4 479.2V483.4M504.5 483.3V483.9M505.6 483.6V484.2M506.7 484.2V486.0M507.8 486.0V488.4M508.9 488.4V491.3M513.3 485.2V487.5M514.3 487.5V493.4M515.4 493.4V496.5M516.5 496.5V497.3M520.9 488.3V503.6M522.0 503.6V517.0M530.7 475.7V476.5M536.2 457.4V458.5M537.2 458.5V468.9M538.3 468.9V470.8M539.4 470.8V477.3M540.5 477.3V479.2M555.8 408.0V419.5M556.9 419.5V448.9M558.0 448.9V449.5M562.3 433.8V437.9M563.4 437.9V442.9M565.6 437.9V452.4M571.0 432.8V433.8M573.2 427.8V429.3M575.4 424.7V433.3M576.5 433.3V448.9M577.6 448.9V454.8M578.7 454.8V464.9M579.8 464.9V482.2M580.8 482.2V484.8M581.9 484.8V487.5M583.0 487.5V497.3M584.1 497.3V512.5M585.2 512.5V521.5M586.3 521.5V530.6M587.4 530.6V539.2M588.5 539.2V547.3M589.6 547.3V560.5M590.7 560.4V561.0M595.0 530.6V537.9M596.1 537.9V548.8M604.8 492.8V495.2M608.1 473.1V484.3M609.2 484.3V489.4M610.3 489.4V497.3M614.6 485.2V491.4M615.7 491.4V496.6M616.8 496.6V502.1M617.9 502.1V506.4M624.5 455.0V457.1M625.5 457.1V464.7M626.6 464.7V474.8M627.7 474.8V483.3M628.8 483.3V494.5M629.9 494.5V497.3M641.9 439.8V447.8M643.0 447.8V455.0M650.6 426.7V427.7M652.8 424.7V430.5M653.9 430.5V438.8M655.0 438.8V447.3M659.3 430.7V435.9M660.4 435.9V447.0M661.5 447.0V467.1M665.9 452.2V453.3M669.1 445.8V446.4M673.5 428.9V434.0M677.9 421.7V428.2M679.0 428.2V436.0M680.0 436.0V439.8M685.5 424.1V428.1M686.6 428.1V432.6M687.7 432.6V437.0M688.8 437.0V439.8M709.5 350.9V353.7M712.8 346.0V352.3M713.8 352.3V357.1M714.9 357.1V358.1M716.0 358.1V367.2M731.3 262.7V280.9M732.4 280.9V332.3M736.7 307.3V317.4M737.8 317.4V320.1M740.0 317.3V324.8M745.5 294.7V295.3M746.5 295.3V296.0M749.8 284.3V284.9M750.9 284.9V296.2M753.1 295.2V304.8M754.2 304.8V343.2M755.3 343.2V367.2M761.8 321.7V326.9M762.9 326.9V338.7M764.0 338.7V339.8M765.1 339.8V348.0M766.2 348.0V350.7M767.3 350.7V358.6M768.4 358.6V367.2M779.3 314.8V317.3M780.3 317.3V327.1M781.4 327.1V334.8M782.5 334.7V335.3M784.7 334.8V337.8M786.9 337.2V338.3M788.0 338.3V346.8M789.1 346.8V347.6M790.2 347.6V357.0M792.3 355.5V362.2M796.7 351.7V363.4M797.8 363.4V365.5M798.9 365.5V369.7M801.1 361.7V365.9M803.2 359.2V359.8M812.0 323.0V324.8M814.1 323.0V329.4M815.2 329.4V338.4M816.3 338.4V339.8M819.6 332.3V336.4M821.8 328.5V333.2M823.9 332.8V337.7M825.0 337.7V347.7M828.3 342.7V345.0M830.5 336.9V337.5M831.6 337.5V338.7M832.7 338.7V346.2M833.8 346.2V349.9M834.8 349.9V357.2M835.9 357.2V357.8M838.1 354.4V355.0M839.2 355.0V360.9M840.3 360.9V368.5M841.4 368.5V373.3M842.5 373.3V379.3M843.6 379.3V387.1M844.7 387.1V395.3M846.8 392.2V400.0M847.9 400.0V402.1M849.0 402.1V403.3M852.3 399.6V412.6M853.4 412.6V423.1M854.5 423.1V429.5M855.6 429.5V430.1M865.4 382.1V395.2M867.6 391.8V399.6M868.6 399.6V410.1M870.8 407.4V409.6M874.1 397.1V400.8M875.2 400.8V403.5M876.3 403.5V406.4M877.4 406.4V413.2M878.5 413.2V417.9M879.5 417.9V422.0M881.7 419.4V421.5M883.9 416.6V422.5M886.1 416.5V417.1M889.4 410.3V413.0M893.7 401.5V411.2M895.9 407.6V411.5M898.1 408.0V416.2M899.2 416.2V419.6M901.3 419.0V422.7M902.4 422.6V423.2M903.5 423.2V425.6M905.7 424.7V427.0M909.0 417.6V418.5M913.3 407.1V408.2M914.4 408.2V412.7M915.5 412.7V414.3M916.6 414.3V419.6M917.7 419.6V422.3M918.8 422.3V426.6M921.0 426.3V429.9M923.1 429.4V439.6M925.3 437.8V444.5M929.7 442.0V451.8M931.9 450.8V459.8M933.0 459.8V461.9M934.1 461.9V464.3M935.1 464.3V469.4M941.7 442.0V449.7M942.8 449.7V454.5M945.0 450.4V460.0M951.5 444.5V447.9M952.6 447.9V449.3M954.8 448.5V457.0M959.1 442.0V448.0M960.2 448.0V449.0M961.3 449.0V453.7M962.4 453.7V457.0M964.6 453.8V459.5M965.7 459.5V463.6M966.8 463.6V464.7M967.8 464.7V471.5M968.9 471.4V472.0M973.3 461.9V471.4M974.4 471.4V474.4M979.8 458.9V459.5M982.0 453.9V454.5M983.1 454.5V460.4M985.3 458.5V471.9M987.5 471.0V475.7M989.6 473.7V479.7M991.8 479.3V480.0M995.1 478.0V479.5M1000.5 460.0V460.6M1001.6 460.5V461.1M1002.7 461.1V466.7M1006.0 457.5V458.1M1007.1 458.1V462.4M1008.2 462.4V464.5M1012.5 436.8V441.8M1013.6 441.8V444.7M1014.7 444.7V446.8M1015.8 446.8V456.0M1018.0 448.3V450.0M1023.4 411.1V414.2M1024.5 414.1V414.7M1025.6 414.7V419.7M1027.8 417.9V423.7M1030.0 423.0V428.2M1032.2 424.6V428.6M1034.3 419.7V424.8M1035.4 424.8V428.5M1036.5 428.5V437.9M1037.6 437.9V441.0M1042.0 430.3V438.5M1043.1 438.5V445.6M1044.2 445.6V449.6M1047.4 445.3V450.7M1048.5 450.7V458.1M1049.6 458.0V458.6M1052.9 445.3V445.9M1055.1 445.3V448.7M1060.5 432.3V437.7M1061.6 437.7V445.3M1067.0 432.5V436.7M1068.1 436.7V443.1M1069.2 443.1V444.9M1070.3 444.9V451.7M1075.8 440.7V445.1M1076.9 445.1V453.6M1077.9 453.4V454.0M1079.0 454.0V459.2M1080.1 459.2V462.4M1091.0 435.7V440.4M1092.1 440.4V443.0M1093.2 443.0V447.4M1096.5 442.7V444.2M1098.7 442.6V443.2M1099.8 443.2V445.9M1100.8 445.9V453.4M1101.9 453.4V458.1M1107.4 445.3V448.3M1110.7 441.0V444.5M1111.7 444.5V446.8M1112.8 446.8V449.3M1113.9 449.1V449.7M1116.1 449.1V450.8M1117.2 450.8V452.2M1119.4 451.0V451.7M1122.6 444.8V445.5M1125.9 444.6V452.2M1131.4 445.3V447.4M1132.5 447.4V451.4M1134.6 448.8V456.9M1135.7 456.9V458.1M1136.8 458.1V462.4M1137.9 462.4V463.4M1139.0 463.2V463.8M1140.1 463.8V464.5M1141.2 464.5V466.7M1142.3 466.7V471.0M1143.4 471.0V472.2M1144.4 472.2V477.4M1146.6 473.0V475.0M1147.7 475.0V477.9M1152.1 462.3V466.1M1157.5 456.3V459.2M1160.8 457.1V459.3M1161.9 459.3V460.8M1163.0 460.8V463.7M1164.1 463.7V464.5M1166.2 463.6V465.0M1168.4 464.2V464.8M1169.5 464.6V465.2M1170.6 465.2V466.6M1171.7 466.6V468.9M1172.8 468.9V472.7M1175.0 471.8V473.1M1176.1 473.0V473.6M1178.2 468.1V468.8M1180.4 463.4V466.6M1183.7 464.5V465.4M1187.0 449.5V450.1M1193.5 423.9V436.8M1194.6 436.8V441.5M1197.9 437.1V439.8M1199.0 439.8V441.6M1201.1 434.6V442.1M1202.2 442.1V446.4M1203.3 446.4V447.1M1204.4 447.1V447.9M1206.6 445.2V447.4M1213.1 429.7V432.3M1215.3 431.9V436.8M1218.6 429.9V430.5M1219.7 430.5V446.0M1220.8 446.0V449.6M1221.8 449.6V477.4M1227.3 455.4V460.3M1228.4 460.3V466.7M1234.9 434.6V435.7M1236.0 435.7V441.0M1245.8 351.3V359.9M1246.9 359.9V366.2M1250.2 359.8V371.4M1251.3 371.4V400.4M1255.6 381.2V385.4M1256.7 385.4V388.6M1257.8 388.6V391.9M1261.1 376.9V391.5M1262.2 391.5V398.3M1268.7 364.1V380.2M1269.8 380.2V381.2M1274.2 349.1V357.8M1275.3 357.8V367.4M1277.4 366.8V376.4M1280.7 374.1V376.7M1281.8 376.7V385.0M1284.0 375.2V382.1M1287.3 362.5V372.1M1291.6 357.6V360.7M1292.7 360.7V365.6M1293.8 365.6V371.3M1294.9 371.3V371.9M1296.0 371.9V381.5M1299.2 375.2V383.2M1301.4 382.3V390.7M1302.5 390.5V391.1M1304.7 384.7V385.3M1305.8 385.3V388.8M1306.9 388.8V392.0M1308.0 392.0V392.8M1309.1 392.8V400.7M1312.3 385.1V389.1M1315.6 378.6V379.5M1317.8 379.0V385.1M1318.9 385.1V388.0M1320.0 388.0V393.4M1321.0 393.4V400.7M1323.2 390.3V399.7M1328.7 385.0V386.0M1329.8 386.0V394.8M1335.2 371.3V373.7M1336.3 373.7V379.5M1337.4 379.4V380.0M1338.5 380.0V381.1M1341.8 375.2V379.9M1342.9 379.9V393.6M1343.9 393.6V408.5M1348.3 398.7V401.1M1349.4 401.1V404.2M1350.5 404.2V409.4M1351.6 409.4V410.5M1352.7 410.5V416.5M1353.8 416.5V422.7M1354.8 422.7V432.0M1359.2 414.4V421.2M1360.3 421.2V426.6M1361.4 426.6V436.0M1364.7 423.5V426.1M1369.0 410.5V428.1M1374.5 404.6V407.2M1376.6 397.4V403.4M1381.0 388.1V389.4M1384.3 384.5V386.5M1386.5 385.0V390.2M1387.5 390.2V396.4M1388.6 396.4V404.6M1389.7 404.6V408.0M1390.8 408.0V414.4M1398.4 374.7V375.3M1399.5 375.3V379.8M1400.6 379.8V387.0M1401.7 387.0V389.4M1403.9 387.2V389.9M1406.1 388.9V390.6M1407.2 390.6V396.8M1412.6 378.9V379.5M1413.7 379.5V387.2M1415.9 386.5V394.8M1419.2 383.1V384.6M1420.3 384.6V388.5M1421.3 388.5V392.9M1423.5 391.5V404.6M1425.7 400.1V403.0M1430.1 391.2V394.8M1434.4 377.2V385.8M1435.5 385.8V386.4M1436.6 386.4V388.9M1437.7 388.9V393.4M1438.8 393.4V395.8M1441.0 395.3V396.8M1443.1 390.1V395.5M1445.3 389.9V392.9M1454.0 353.7V354.9M1455.1 354.9V364.8M1456.2 364.8V365.4M1460.6 338.0V342.4M1461.7 342.4V348.1M1462.8 348.1V351.7M1463.9 351.5V352.1M1468.2 341.9V352.2M1470.4 348.8V360.2M1471.5 360.2V363.5M1478.0 348.3V348.9M1483.5 326.0V328.3M1485.7 324.3V331.8M1486.7 331.8V344.4M1488.9 343.7V344.3M1490.0 344.3V352.3M1491.1 352.3V352.9M1492.2 352.9V353.7M1493.3 353.6V354.2M1496.6 347.1V347.7M1499.8 337.0V341.9M1503.1 334.1V335.7M1508.6 325.7V338.0M1510.7 331.3V332.1M1511.8 332.0V332.6M1514.0 332.2V334.5M1515.1 334.5V336.0M1519.5 318.4V321.7M1527.1 302.7V307.8M1528.2 307.8V310.5M1529.3 310.3V310.9" stroke="#e63a49" stroke-width="2.2" fill="none" opacity=".78"/>
<path d="M225.5 655.0V653.0M229.8 663.4V655.8M232.0 658.2V651.8M236.4 670.0V668.0M240.7 675.0V672.9M241.8 673.2V672.6M242.9 672.6V666.9M248.4 679.6V673.6M250.5 677.9V670.3M251.6 670.3V665.9M254.9 677.2V675.0M256.0 675.0V671.6M257.1 671.6V670.5M258.2 670.5V664.5M259.3 664.5V658.2M262.5 660.7V660.1M263.6 660.1V658.8M264.7 659.0V658.4M269.1 669.2V668.5M274.5 678.5V675.3M275.6 675.3V671.7M276.7 671.7V670.0M277.8 670.0V663.1M280.0 664.2V661.1M286.5 673.8V670.0M287.6 670.0V659.8M289.8 665.6V663.4M290.9 663.4V658.6M292.0 658.6V657.0M293.1 657.0V650.6M296.3 658.8V650.8M297.4 650.8V649.4M299.6 651.5V646.6M300.7 646.6V643.7M305.0 659.9V654.2M307.2 657.6V652.8M308.3 652.8V644.9M309.4 644.9V642.4M310.5 642.5V641.9M311.6 641.9V640.9M312.7 640.9V636.0M313.8 636.0V634.4M314.9 634.4V621.3M317.0 623.6V614.1M318.1 614.1V609.0M321.4 618.2V609.0M323.6 610.9V604.3M324.7 604.3V597.4M325.8 597.4V591.0M326.8 591.0V587.5M327.9 587.5V575.5M329.0 575.5V571.0M330.1 571.0V566.8M336.7 636.8V632.3M337.7 632.3V627.8M338.8 627.8V620.6M342.1 634.4V629.1M343.2 629.1V622.5M345.4 623.0V616.1M346.5 616.1V606.7M347.6 606.7V601.5M349.7 603.4V601.5M353.0 608.7V602.0M358.5 620.6V614.1M359.5 614.1V608.6M360.6 608.6V598.6M361.7 598.6V592.8M362.8 592.8V590.2M365.0 590.6V585.6M366.1 585.6V581.4M367.2 581.4V575.0M368.3 575.0V574.3M371.5 604.4V602.9M372.6 602.9V599.7M377.0 612.5V607.8M378.1 607.8V603.2M379.2 603.2V600.0M380.3 600.0V596.8M381.4 596.8V591.7M382.4 591.7V585.8M385.7 591.1V588.7M389.0 599.8V598.3M390.1 598.3V592.8M391.2 592.8V592.2M394.4 602.0V599.2M396.6 599.6V590.5M397.7 590.5V588.4M398.8 588.4V585.8M404.2 599.7V593.4M405.3 593.4V591.5M410.8 604.4V599.2M411.9 599.3V598.7M414.1 601.3V591.4M415.1 591.4V585.2M417.3 590.1V578.9M420.6 586.2V585.6M421.7 585.9V585.3M422.8 585.3V577.0M423.9 577.0V568.0M425.0 568.0V564.1M426.0 564.1V561.9M427.1 561.9V553.4M430.4 565.0V563.1M431.5 563.1V553.4M432.6 553.4V547.6M434.8 550.4V540.7M438.0 551.1V544.0M440.2 545.0V539.8M441.3 539.8V537.1M442.4 537.1V532.6M443.5 532.6V519.6M444.6 519.6V515.2M445.7 515.2V502.5M446.8 502.5V491.9M447.9 491.9V482.0M448.9 482.0V476.1M450.0 476.1V465.5M456.6 544.2V542.1M457.7 542.1V526.2M458.8 526.2V511.8M463.1 528.0V510.4M464.2 510.4V503.6M465.3 503.6V497.9M466.4 497.9V496.4M467.5 496.4V491.6M468.6 491.6V490.9M471.8 526.8V522.7M472.9 522.7V521.9M474.0 521.9V517.2M475.1 517.2V509.4M476.2 509.4V505.9M477.3 505.9V501.3M478.4 501.3V493.2M479.5 493.2V492.2M480.6 492.2V485.8M481.6 485.8V477.7M489.3 502.5V498.5M490.4 498.5V494.3M491.5 494.3V487.6M492.5 487.6V483.0M493.6 483.0V479.5M494.7 479.5V473.1M495.8 473.1V471.2M499.1 497.9V496.1M500.2 496.1V491.2M501.3 491.2V488.8M502.4 488.8V479.2M510.0 491.3V488.9M511.1 488.9V487.2M512.2 487.2V485.2M517.6 497.3V492.4M518.7 492.4V489.1M519.8 489.1V488.3M523.1 517.0V514.3M524.2 514.3V506.1M525.3 506.1V503.4M526.3 503.4V494.2M527.4 494.2V486.8M528.5 486.8V482.2M529.6 482.2V475.7M531.8 476.5V467.6M532.9 467.6V462.4M534.0 462.4V458.0M535.1 458.0V457.4M541.6 479.2V469.7M542.7 469.7V469.0M543.8 469.0V459.7M544.9 459.7V451.9M546.0 451.9V448.5M547.1 448.5V447.8M548.1 447.8V444.0M549.2 444.0V441.7M550.3 441.7V438.5M551.4 438.5V433.8M552.5 433.8V423.5M553.6 423.5V420.0M554.7 420.0V408.0M559.0 449.5V446.3M560.1 446.3V434.4M561.2 434.4V433.8M564.5 442.9V437.9M566.7 452.5V451.9M567.8 451.9V449.2M568.9 449.2V440.2M569.9 440.2V432.8M572.1 433.8V427.8M574.3 429.3V424.7M591.7 561.0V541.5M592.8 541.5V536.7M593.9 536.7V530.6M597.2 548.8V543.6M598.3 543.6V532.5M599.4 532.5V526.7M600.5 526.7V515.0M601.6 515.0V512.5M602.6 512.5V500.7M603.7 500.7V492.8M605.9 495.2V479.1M607.0 479.1V473.1M611.4 497.3V489.1M612.5 489.1V488.4M613.6 488.4V485.2M619.0 506.4V494.8M620.1 494.8V490.9M621.2 490.9V478.9M622.3 478.9V471.4M623.4 471.4V455.0M631.0 497.3V491.8M632.1 491.8V483.8M633.2 483.8V476.6M634.3 476.6V472.7M635.4 472.7V469.8M636.4 469.8V454.7M637.5 454.7V451.9M638.6 451.9V447.9M639.7 447.9V441.0M640.8 441.0V439.8M644.1 455.0V453.2M645.2 453.2V451.0M646.3 451.0V445.0M647.3 445.0V439.5M648.4 439.5V434.4M649.5 434.4V426.7M651.7 427.7V424.7M656.1 447.3V445.9M657.2 445.9V436.7M658.2 436.7V430.7M662.6 467.1V464.9M663.7 464.9V462.9M664.8 462.9V452.2M667.0 453.3V446.6M668.1 446.6V445.9M670.2 446.4V442.4M671.3 442.4V433.1M672.4 433.1V428.9M674.6 434.0V428.3M675.7 428.3V423.0M676.8 423.0V421.7M681.1 439.8V433.9M682.2 433.9V426.6M683.3 426.6V424.7M684.4 424.7V424.1M689.9 439.8V437.6M691.0 437.6V433.4M692.0 433.4V430.0M693.1 430.0V427.7M694.2 427.7V424.8M695.3 424.8V413.6M696.4 413.6V412.7M697.5 412.7V407.2M698.6 407.2V399.8M699.7 399.8V395.3M700.8 395.3V385.3M701.9 385.3V380.1M702.9 380.1V377.2M704.0 377.2V368.7M705.1 368.7V361.1M706.2 361.2V360.6M707.3 360.6V352.7M708.4 352.7V350.9M710.6 353.7V351.1M711.7 351.1V346.0M717.1 367.2V362.1M718.2 362.1V351.3M719.3 351.3V346.6M720.4 346.6V334.6M721.5 334.6V333.6M722.6 333.6V324.8M723.7 324.8V317.9M724.7 317.9V314.4M725.8 314.4V307.6M726.9 307.6V300.6M728.0 300.6V285.3M729.1 285.3V278.9M730.2 278.9V262.7M733.5 332.3V323.0M734.6 323.0V317.6M735.6 317.6V307.3M738.9 320.1V317.3M741.1 324.8V320.8M742.2 320.8V308.8M743.3 308.8V304.1M744.4 304.1V294.9M747.6 296.0V291.4M748.7 291.4V284.4M752.0 296.2V295.2M756.4 367.2V358.5M757.4 358.5V348.0M758.5 348.0V339.2M759.6 339.2V322.3M760.7 322.3V321.7M769.4 367.2V356.1M770.5 356.1V353.6M771.6 353.6V341.3M772.7 341.3V333.5M773.8 333.5V329.8M774.9 329.8V326.4M776.0 326.4V318.7M777.1 318.7V317.1M778.2 317.1V314.8M783.6 335.4V334.8M785.8 337.8V337.2M791.2 357.0V355.5M793.4 362.2V354.9M794.5 354.9V352.2M795.6 352.3V351.7M800.0 369.7V361.7M802.1 365.9V359.2M804.3 359.8V351.3M805.4 351.3V347.4M806.5 347.4V340.7M807.6 340.7V340.1M808.7 340.1V334.6M809.8 334.6V323.5M810.9 323.6V323.0M813.0 324.8V323.0M817.4 339.8V336.9M818.5 336.9V332.3M820.7 336.4V328.5M822.9 333.4V332.8M826.1 347.8V347.2M827.2 347.2V342.7M829.4 345.0V337.1M837.0 357.8V354.7M845.8 395.3V392.2M850.1 403.5V402.9M851.2 402.9V399.6M856.7 430.1V420.2M857.7 420.5V419.9M858.8 419.9V415.1M859.9 415.1V414.5M861.0 414.5V405.5M862.1 405.5V390.1M863.2 390.1V388.9M864.3 388.9V382.1M866.5 395.2V391.8M869.7 410.1V407.4M871.9 409.6V403.4M873.0 403.4V397.1M880.6 422.0V419.4M882.8 421.5V416.6M885.0 422.5V416.6M887.2 417.1V412.6M888.3 412.6V410.3M890.4 413.0V407.1M891.5 407.1V402.1M892.6 402.1V401.5M894.8 411.2V407.6M897.0 411.5V408.0M900.3 419.6V419.0M904.6 425.6V424.7M906.8 427.0V421.8M907.9 421.8V417.6M910.1 418.5V414.6M911.2 414.6V410.7M912.2 410.7V407.1M919.9 426.9V426.3M922.1 430.0V429.4M924.2 439.6V437.8M926.4 444.5V443.3M927.5 443.3V442.6M928.6 442.6V442.0M930.8 451.8V450.8M936.2 469.4V468.5M937.3 468.5V458.6M938.4 458.6V452.1M939.5 452.1V445.4M940.6 445.4V442.0M943.9 454.5V450.4M946.0 460.3V459.7M947.1 459.9V459.3M948.2 459.3V455.4M949.3 455.4V454.5M950.4 454.5V444.5M953.7 449.3V448.5M955.9 457.0V453.2M956.9 453.2V450.4M958.0 450.4V442.0M963.5 457.0V453.8M970.0 472.0V467.5M971.1 467.5V463.0M972.2 463.0V461.9M975.5 474.4V472.9M976.6 472.9V467.2M977.7 467.2V463.0M978.7 463.0V459.0M980.9 459.5V454.0M984.2 460.4V458.5M986.4 471.9V471.0M988.6 475.7V473.7M990.7 479.9V479.3M992.9 480.0V478.4M994.0 478.6V478.0M996.2 479.5V476.7M997.3 476.7V466.0M998.4 466.0V461.8M999.5 461.8V460.3M1003.8 466.7V460.1M1004.9 460.1V457.5M1009.3 464.5V453.0M1010.4 453.0V449.3M1011.5 449.3V436.8M1016.9 456.0V448.3M1019.1 450.0V436.8M1020.2 436.8V430.0M1021.3 430.0V422.5M1022.4 422.5V411.1M1026.7 419.7V417.9M1028.9 423.7V423.0M1031.1 428.2V424.6M1033.3 428.6V419.7M1038.7 441.0V436.9M1039.8 436.9V431.6M1040.9 431.6V430.3M1045.2 449.6V446.8M1046.3 446.8V445.3M1050.7 458.6V454.4M1051.8 454.4V445.3M1054.0 445.9V445.3M1056.1 448.7V438.1M1057.2 438.1V434.8M1058.3 434.8V432.8M1059.4 432.9V432.3M1062.7 445.3V439.0M1063.8 439.3V438.7M1064.9 438.7V433.5M1066.0 433.5V432.5M1071.4 451.8V451.2M1072.5 451.2V446.9M1073.6 446.9V441.0M1074.7 441.3V440.7M1081.2 462.4V456.6M1082.3 456.6V453.5M1083.4 453.5V451.7M1084.5 451.7V445.3M1085.6 445.3V444.3M1086.7 444.3V443.3M1087.8 443.3V442.2M1088.9 442.2V436.8M1089.9 436.8V435.7M1094.3 447.4V444.4M1095.4 444.4V442.7M1097.6 444.2V442.7M1103.0 458.1V451.4M1104.1 451.4V448.8M1105.2 448.8V447.2M1106.3 447.2V445.3M1108.5 448.3V444.6M1109.6 444.6V441.0M1115.0 449.7V449.1M1118.3 452.2V451.0M1120.5 451.7V449.7M1121.6 449.7V444.8M1123.7 445.7V445.1M1124.8 445.2V444.6M1127.0 452.3V451.7M1128.1 451.7V450.2M1129.2 450.2V447.8M1130.3 447.8V445.3M1133.5 451.4V448.8M1145.5 477.4V473.0M1148.8 477.9V470.9M1149.9 470.9V468.7M1151.0 468.7V462.3M1153.2 466.1V458.6M1154.3 458.6V458.0M1155.3 458.0V456.6M1156.4 456.9V456.3M1158.6 459.2V458.6M1159.7 458.6V457.1M1165.2 464.5V463.6M1167.3 465.1V464.5M1173.9 472.7V471.8M1177.2 473.6V468.1M1179.3 468.8V463.4M1181.5 466.6V465.2M1182.6 465.2V464.5M1184.8 465.4V457.2M1185.9 457.2V449.6M1188.1 450.1V444.6M1189.1 444.6V435.3M1190.2 435.3V429.2M1191.3 429.2V427.2M1192.4 427.2V423.9M1195.7 441.6V441.0M1196.8 441.0V437.1M1200.0 441.6V434.6M1205.5 447.9V445.2M1207.7 447.4V441.5M1208.8 441.5V433.9M1209.9 433.9V430.5M1210.9 430.7V430.1M1212.0 430.3V429.7M1214.2 432.5V431.9M1216.4 436.8V435.4M1217.5 435.4V430.0M1222.9 477.4V475.2M1224.0 475.2V474.0M1225.1 474.0V465.4M1226.2 465.4V455.4M1229.5 466.7V462.1M1230.6 462.1V458.0M1231.7 458.0V448.4M1232.7 448.4V439.3M1233.8 439.3V434.6M1237.1 441.0V439.5M1238.2 439.5V431.0M1239.3 431.0V427.4M1240.4 427.4V423.9M1241.5 423.9V414.9M1242.6 414.9V391.9M1243.6 391.9V374.4M1244.7 374.4V351.3M1248.0 366.2V363.7M1249.1 363.7V359.8M1252.4 400.4V396.3M1253.5 396.3V384.3M1254.6 384.3V381.2M1258.9 391.9V384.0M1260.0 384.0V376.9M1263.3 398.3V393.8M1264.4 393.8V378.9M1265.5 378.9V378.0M1266.5 378.0V369.7M1267.6 369.7V364.1M1270.9 381.2V370.7M1272.0 370.7V351.3M1273.1 351.3V349.1M1276.4 367.4V366.8M1278.5 376.4V374.8M1279.6 374.8V374.1M1282.9 385.0V375.2M1285.1 382.1V371.3M1286.2 371.3V362.5M1288.3 372.1V363.6M1289.4 363.6V361.6M1290.5 361.6V357.6M1297.1 381.5V379.3M1298.2 379.3V375.2M1300.3 383.2V382.3M1303.6 391.1V384.9M1310.1 400.7V392.9M1311.2 392.9V385.1M1313.4 389.1V385.0M1314.5 385.0V378.6M1316.7 379.6V379.0M1322.1 400.7V390.3M1324.3 399.7V392.9M1325.4 392.9V390.2M1326.5 390.2V385.5M1327.6 385.6V385.0M1330.9 394.8V391.7M1332.0 391.7V382.9M1333.0 382.9V380.6M1334.1 380.6V371.3M1339.6 381.1V377.0M1340.7 377.0V375.2M1345.0 408.5V407.8M1346.1 407.8V403.4M1347.2 403.4V398.7M1355.9 432.0V429.1M1357.0 429.1V424.5M1358.1 424.5V414.4M1362.5 436.0V434.4M1363.6 434.4V423.5M1365.7 426.1V420.3M1366.8 420.3V414.4M1367.9 414.4V410.5M1370.1 428.1V425.0M1371.2 425.0V414.4M1372.3 414.4V411.3M1373.4 411.3V404.6M1375.6 407.2V397.4M1377.7 403.4V393.7M1378.8 393.7V388.9M1379.9 388.9V388.1M1382.1 389.4V387.0M1383.2 387.0V384.5M1385.4 386.5V385.0M1391.9 414.4V404.1M1393.0 404.1V401.8M1394.1 401.8V392.8M1395.2 392.8V383.1M1396.3 383.1V381.3M1397.4 381.3V374.7M1402.8 389.4V387.2M1405.0 389.9V388.9M1408.3 397.1V396.5M1409.4 396.5V389.9M1410.4 389.9V388.3M1411.5 388.3V379.1M1414.8 387.2V386.5M1417.0 394.8V384.4M1418.1 384.4V383.1M1422.4 392.9V391.5M1424.6 404.6V400.1M1426.8 403.0V394.8M1427.9 394.8V392.9M1429.0 392.9V391.2M1431.2 394.8V393.3M1432.2 393.3V386.4M1433.3 386.4V377.2M1439.9 395.9V395.3M1442.1 396.8V390.1M1444.2 395.5V389.9M1446.4 392.9V391.3M1447.5 391.3V384.5M1448.6 384.5V379.1M1449.7 379.1V372.6M1450.8 372.6V368.4M1451.9 368.4V361.1M1453.0 361.1V353.7M1457.3 365.4V354.2M1458.4 354.2V347.7M1459.5 347.7V338.0M1464.9 352.1V348.8M1466.0 348.8V347.7M1467.1 347.7V341.9M1469.3 352.2V348.8M1472.6 363.5V362.9M1473.7 362.9V358.4M1474.8 358.4V357.4M1475.8 357.4V355.6M1476.9 355.6V348.4M1479.1 348.9V346.3M1480.2 346.3V336.0M1481.3 336.0V331.5M1482.4 331.5V326.0M1484.6 328.3V324.3M1487.8 344.4V343.8M1494.4 354.2V347.6M1495.5 347.9V347.3M1497.7 347.7V345.8M1498.7 345.8V337.0M1500.9 341.9V338.9M1502.0 338.9V334.1M1504.2 335.7V332.7M1505.3 332.7V326.5M1506.4 326.7V326.1M1507.5 326.3V325.7M1509.6 338.0V331.3M1512.9 332.8V332.2M1516.2 336.0V329.8M1517.3 329.8V323.9M1518.4 323.9V318.4M1520.5 321.7V314.4M1521.6 314.4V312.5M1522.7 312.5V311.9M1523.8 311.9V305.8M1524.9 305.8V303.9M1526.0 303.9V302.7M1530.4 310.9V306.6M1531.4 306.6V303.6M1532.5 303.6V298.4M1533.6 298.4V292.9M1534.7 292.9V281.7M1535.8 281.7V281.1M1536.9 281.1V267.9" stroke="#0f927f" stroke-width="2.2" fill="none" opacity=".78"/>
</g>
</g>

<rect x="1221.5" y="470" width="2.5" height="32" fill="#2f8a7e" opacity=".9"/>
<rect x="1221.6" y="502" width="2.2" height="9.5" fill="#f4a3ab" opacity=".9"/>
<!-- resistance box -->
<g>
<rect x="698" y="264.9" width="880" height="7.9" fill="#9dcbd0" fill-opacity=".8"/>
<rect x="698" y="263.6" width="880" height="1.3" fill="#e9b5f2" fill-opacity=".6"/>
<rect x="698" y="264.9" width="880" height="2.2" fill="#6c2d8f"/>
<rect x="698" y="270.3" width="880" height="2.5" fill="#a05cc0"/>
<rect x="698" y="264.9" width="2.2" height="7.9" fill="#7d2f9e"/>
<rect x="1575.8" y="264.9" width="2.2" height="7.9" fill="#5f3890"/>
</g>

<!-- price axis -->
<g class="ax">
<text x="1993" y="89.3">140</text>
<text x="1993" y="129.8">110</text>
<text x="1993" y="165">90</text>
<text x="1993" y="208">70</text>
<text x="1993" y="251.6">54</text>
<text x="1993" y="295.5">42</text>
<text x="1993" y="331.7">34</text>
<text x="1993" y="365">28</text>
<text x="1993" y="406.3">22</text>
<text x="1993" y="440">18</text>
<text x="1993" y="483.7">14</text>
<text x="1993" y="525.1">11</text>
<text x="1993" y="559.4">9</text>
<text x="1993" y="602.5">7</text>
<text x="1993" y="660.1">5</text>
<text x="1993" y="698.3">4</text>
</g>
<!-- price label -->
<rect x="1875" y="259.2" width="137" height="18" rx="2" fill="#0b9a82"/>
<rect x="1983" y="259.2" width="1" height="18" fill="#bfeee3"/>
<text x="1999.5" y="272.6" font-size="12" fill="#fff" text-anchor="middle">48</text>

<!-- header -->
<g font-size="16.3" fill="#20242f">
<text x="210.8" y="103">-</text>
<text x="220.8" y="104">1W</text>
</g>
<g font-size="14">
<text x="254.5" y="102.5" fill="#2a2e39">O<tspan fill="#22a08c">46</tspan></text>
<text x="288" y="102.5" fill="#2a2e39">H<tspan fill="#22a08c">48</tspan></text>
<text x="322.5" y="102.5" fill="#2a2e39">L<tspan fill="#22a08c">46</tspan></text>
<text x="354" y="102.5" fill="#2a2e39">C<tspan fill="#22a08c">48</tspan></text>
<text x="387" y="102.5" fill="#22a08c">+2 (+4.28%)</text>
</g>

<!-- TV logo -->
<circle cx="77.2" cy="675" r="18.5" fill="#fff" stroke="#e9eaee" stroke-width="1.2"/>
<path d="M65.3 668.6h10.6v12.6h-5.3v-7.5h-5.3zM78.7 668.6a1.9 1.9 0 1 0 .01 0zM83.6 668.6h6.2l-5 12.6h-6.2z" fill="#15161d"/>

<!-- RSI pane -->
<text x="56" y="728.3" font-size="13.5" fill="#2a2e39">RSI <tspan fill="#5d606b">14</tspan></text>
<text x="106.5" y="728.5" font-size="14.4" fill="#9478cf">83.25</text>
<rect x="280.3" y="730.7" width="1324.4" height="13.4" fill="#cdece6" stroke="#9c2aa8" stroke-width="2"/>
<rect x="279.3" y="729.7" width="1326.4" height="2" fill="#b252c0"/>
<rect x="279.3" y="743.1" width="1326.4" height="2.1" fill="#8a1c94"/>
<g id="rsi">
<path d="M240.5 846.3L241.6 841.5L242.7 839.2L243.4 836.7L244.9 844.1L246.0 851.0L246.5 853.5L247.1 850.1L248.2 840.0L249.3 832.0L250.6 824.7L251.4 827.9L252.5 827.5L253.0 829.5L253.6 825.0L254.7 822.5L255.8 814.4L256.6 810.3L258.0 803.1L259.5 792.3L260.2 793.6L261.3 796.4L262.6 798.3L263.4 803.3L264.5 813.8L265.7 822.3L266.7 820.6L267.8 815.4L268.6 812.7L270.0 823.7L271.5 833.1L272.2 830.1L273.3 821.6L274.3 818.8L275.4 812.2L276.5 805.1L277.6 798.1L278.2 797.1L278.7 801.1L279.8 804.3L280.9 810.3L282.0 815.9L283.0 818.7L284.2 819.3L285.3 819.8L286.6 817.5L287.4 810.6L288.5 804.4L289.6 794.7L290.7 788.8L292.1 776.7L292.9 782.8L294.0 785.2L295.0 792.3L296.2 785.6L297.3 781.3L298.3 780.0L299.8 771.9L300.5 782.2L301.6 798.1L302.6 811.5L303.8 803.8L304.9 798.3L306.0 791.4L307.1 784.8L308.2 779.1L309.3 781.7L310.6 783.9L311.4 778.6L312.5 773.1L313.6 765.1L314.7 759.2L315.8 751.9L316.5 745.6L318.0 755.9L319.1 760.6L320.1 765.9L321.3 761.9L322.3 762.4L323.7 757.6L324.5 754.9L325.6 748.1L326.7 740.0L327.3 736.0L327.8 736.4L328.9 732.9L330.0 734.4L330.5 732.4L331.1 756.1L332.1 795.9L333.3 808.1L334.3 819.8L335.0 829.5L336.5 825.2L337.6 821.6L338.1 817.5L338.7 816.9L339.8 822.2L340.5 822.3L342.0 815.5L343.1 809.6L344.2 805.4L345.3 802.7L346.5 795.9L347.4 800.3L348.9 803.1L349.6 798.7L350.7 797.4L351.3 794.7L351.8 795.5L352.9 804.6L354.0 809.1L354.9 815.1L356.2 809.3L357.3 803.2L358.3 794.5L359.7 786.3L360.5 789.2L361.6 787.1L362.6 788.7L363.8 782.7L364.9 781.2L366.0 774.9L367.1 771.8L368.1 769.5L369.3 810.3L370.3 813.4L371.4 817.9L372.9 822.3L373.6 818.6L374.7 814.9L375.8 815.2L376.5 811.5L378.0 801.4L379.4 793.5L380.2 795.1L381.3 794.1L382.3 791.1L383.2 791.1L384.5 800.3L385.6 808.3L386.1 811.5L386.7 810.7L387.8 807.9L388.9 805.2L389.7 803.1L391.1 807.9L392.2 812.7L392.8 812.7L394.3 802.5L395.7 793.5L396.5 797.1L397.6 803.3L398.7 806.1L399.8 811.4L401.0 817.5L402.0 814.9L403.1 807.8L404.1 803.1L405.3 808.3L406.3 810.6L407.4 817.0L408.9 823.5L409.6 819.2L410.7 810.1L411.8 806.0L412.9 799.3L414.0 790.1L415.1 785.8L416.1 779.1L417.3 783.9L418.3 789.3L419.4 792.4L420.1 795.9L421.6 783.3L422.7 773.4L423.8 760.3L424.5 756.4L426.0 768.9L426.9 779.1L428.2 773.8L429.3 770.0L430.5 762.4L431.4 767.1L432.9 776.7L433.6 772.0L434.7 766.0L435.3 762.4L435.8 763.8L436.9 768.3L437.6 771.9L439.1 766.4L440.2 763.0L441.2 760.0L442.3 754.1L443.4 746.7L444.8 739.6L445.6 737.7L446.7 737.5L447.8 732.3L448.9 732.4L450.0 758.6L450.8 779.1L452.2 793.4L453.3 802.5L454.3 813.0L454.9 819.9L455.4 819.2L456.5 812.5L457.6 808.0L458.7 804.9L459.2 803.1L459.8 805.7L460.9 806.3L461.6 810.3L463.1 802.3L464.2 796.9L465.3 793.7L466.4 786.3L467.4 799.2L468.8 817.5L469.6 817.1L470.7 811.3L471.8 809.3L472.9 808.0L473.6 805.5L475.1 801.6L476.2 795.5L477.3 790.4L478.3 785.7L479.4 783.3L480.8 777.9L481.9 777.1L482.7 782.1L483.8 793.6L484.9 802.4L485.8 807.8L487.1 801.8L488.2 798.4L489.6 794.4L490.3 793.2L491.4 788.8L492.5 785.8L493.6 780.0L494.4 778.1L495.8 792.2L496.9 805.9L498.0 801.0L499.1 799.2L500.2 793.0L501.1 790.6L502.3 795.4L503.4 800.5L504.5 805.3L505.9 811.7L506.7 807.5L507.8 804.7L508.8 798.2L510.0 803.0L511.1 808.0L512.2 817.8L513.6 823.2L514.3 819.7L515.4 812.9L516.5 804.0L517.6 810.3L518.7 818.6L519.8 824.7L521.2 830.9L522.0 825.0L523.1 820.4L524.2 813.9L525.3 806.2L526.3 798.6L527.0 794.4L528.5 793.5L529.6 793.7L530.8 794.4L531.8 786.7L532.9 778.6L534.1 772.4L535.1 778.7L536.2 783.9L537.3 792.9L538.3 796.1L539.5 805.0L540.5 800.6L541.6 793.4L542.7 788.0L543.8 781.6L544.3 777.1L544.9 777.4L546.0 773.4L547.1 768.3L548.2 768.9L549.1 765.6L550.3 757.1L551.4 751.7L552.9 744.5L553.6 747.0L554.4 748.4L555.2 802.1L555.8 800.9L556.9 798.0L558.0 797.8L558.7 794.4L560.2 803.0L561.5 809.8L562.3 804.8L563.4 798.6L564.8 792.5L565.6 798.2L566.7 802.0L568.2 809.8L568.9 808.3L570.0 801.8L571.1 796.6L572.2 793.5L573.0 789.6L574.3 798.4L575.4 801.7L575.9 805.9L576.5 816.8L577.6 834.6L578.2 842.4L578.7 842.6L579.8 840.2L580.7 836.6L582.0 841.3L583.2 850.0L584.6 827.0L585.3 831.7L586.3 839.2L587.8 846.2L588.5 843.2L589.6 842.6L590.7 841.1L591.8 840.6L593.2 838.5L594.0 835.7L595.1 832.4L596.2 830.2L597.3 823.3L598.0 823.2L599.4 816.0L600.5 812.4L601.6 808.5L602.8 805.9L603.8 798.2L604.9 795.9L606.0 789.1L606.6 783.9L607.1 784.9L608.2 793.5L608.9 798.2L610.3 795.8L611.4 795.4L612.5 801.0L613.6 807.4L614.7 815.0L615.3 817.4L615.8 814.6L616.9 807.2L618.0 800.1L619.1 794.3L620.2 787.0L621.3 782.5L622.0 778.1L623.4 786.8L624.5 791.0L625.8 798.2L626.7 801.4L627.8 807.9L629.3 817.4L630.0 813.1L631.1 808.4L632.2 803.5L633.5 795.4L634.3 796.6L635.4 799.2L636.5 792.9L637.6 784.7L638.7 776.5L639.2 773.3L639.8 775.4L640.9 781.0L642.1 786.7L643.1 780.9L644.0 773.3L645.3 783.4L646.5 794.4L647.4 790.7L648.5 784.2L649.8 778.1L650.7 781.1L651.8 787.1L652.9 792.6L654.0 794.7L654.6 799.2L655.1 796.2L656.2 790.3L656.9 786.7L658.3 802.3L659.4 812.9L660.7 823.2L661.6 817.9L662.7 814.5L663.8 808.4L665.1 800.2L666.0 799.4L667.1 800.7L668.0 801.1L669.3 794.1L670.3 792.4L670.9 788.7L671.4 790.5L672.8 792.5L673.6 792.0L674.7 788.7L676.1 783.9L676.9 792.2L678.0 802.6L678.6 806.9L679.1 804.9L680.2 798.1L681.3 795.4L681.8 792.5L682.3 793.1L683.4 799.6L684.3 805.9L685.6 806.8L686.7 803.2L687.8 803.1L688.9 802.9L690.0 806.0L691.0 804.0L692.2 795.8L693.3 788.6L694.3 785.6L695.8 775.2L696.5 768.6L697.6 764.1L699.1 752.2L699.8 759.7L700.6 766.6L702.0 757.9L702.5 752.2L703.1 756.0L704.2 758.0L705.4 761.8L706.3 760.9L707.4 755.0L708.3 755.1L709.6 755.4L710.7 753.5L711.2 753.2L711.8 760.8L712.9 769.6L714.0 784.0L714.4 787.7L715.1 786.1L716.2 776.2L717.3 771.3L718.3 766.3L719.8 758.0L720.5 757.7L721.6 752.6L722.7 751.2L723.8 748.2L724.9 746.9L725.9 746.5L727.1 740.5L728.4 732.1L729.3 733.6L730.4 733.0L731.3 802.1L732.5 799.5L733.6 797.5L735.2 795.4L735.8 797.3L736.9 801.0L738.0 805.3L739.4 810.7L740.2 804.6L741.3 800.5L742.3 796.6L743.8 786.7L744.5 789.3L745.7 794.4L746.7 788.5L747.6 781.0L748.9 782.7L750.0 787.7L751.5 790.6L752.2 805.5L753.3 826.5L753.8 835.7L754.3 833.1L755.4 828.1L756.5 823.9L757.6 820.2L759.1 811.7L759.8 812.8L760.9 816.9L762.0 823.2L763.1 823.2L764.2 822.9L764.9 820.3L766.3 826.5L767.4 830.7L768.3 834.7L769.6 828.1L770.7 819.3L771.8 813.2L772.9 806.4L773.5 804.0L774.0 804.8L775.4 805.9L776.2 802.4L777.3 797.9L777.7 797.3L778.3 800.5L779.4 805.9L780.5 807.3L781.6 813.4L782.2 814.6L782.7 814.8L783.8 818.1L784.9 818.2L786.0 818.1L787.0 820.3L788.2 825.9L789.3 831.3L789.8 836.6L790.3 836.6L791.4 836.4L792.5 835.7L793.6 836.8L794.6 837.6L796.0 846.2L796.9 842.4L798.0 840.7L799.4 834.7L800.2 832.0L801.3 834.1L802.3 830.2L803.3 828.9L804.5 809.1L805.6 791.0L806.1 782.9L806.7 780.3L807.8 772.5L808.4 766.6L808.9 767.2L810.0 767.8L811.1 769.8L811.9 769.5L813.3 787.7L814.3 799.0L815.3 811.7L816.5 805.7L817.6 800.3L818.7 791.7L819.6 786.7L820.9 795.9L822.0 804.4L823.1 815.1L824.4 824.1L825.3 821.7L826.3 819.0L827.4 814.6L828.5 808.0L829.2 806.9L829.6 808.4L830.7 815.5L831.8 822.0L833.0 830.9L834.0 832.0L835.1 832.9L836.2 833.3L837.3 830.6L837.8 831.8L838.3 837.3L839.4 842.6L840.5 850.8L842.0 861.6L842.7 859.1L843.5 853.9L844.9 859.3L846.0 867.3L847.1 859.1L848.3 852.9L849.3 854.7L850.3 852.7L851.2 853.9L852.5 858.5L853.6 863.8L854.1 865.4L854.7 864.2L855.8 857.8L856.9 855.7L858.0 852.7L858.9 850.0L860.2 830.6L861.3 812.8L861.9 804.0L863.4 805.6L864.2 805.9L865.6 817.1L866.7 822.2L867.8 822.8L868.9 824.6L869.6 825.1L871.1 815.4L871.9 812.6L873.3 819.1L874.3 826.7L875.4 830.2L876.3 836.6L877.6 838.7L878.7 839.0L880.1 837.6L880.9 832.3L882.0 831.0L882.6 826.1L884.2 824.9L884.9 825.1L886.3 833.4L887.2 836.6L888.5 823.8L889.6 809.9L890.7 799.2L891.8 803.9L892.6 805.9L894.1 804.0L895.1 811.6L896.5 821.3L897.3 823.7L898.3 822.9L899.4 826.6L900.5 829.0L901.2 828.0L902.7 831.3L903.8 832.7L904.5 833.7L906.0 815.2L907.1 804.5L908.0 794.4L909.3 792.3L910.3 792.7L911.4 791.2L912.2 789.6L913.6 800.9L914.7 807.5L915.8 817.8L916.6 823.2L918.0 824.7L919.5 825.1L920.2 828.3L921.3 838.6L922.3 844.8L923.4 849.6L924.3 856.8L925.6 850.5L926.2 845.3L926.7 846.0L927.8 851.7L928.9 858.3L929.6 860.6L931.1 852.9L932.5 844.3L933.3 839.7L934.3 833.1L935.8 823.2L936.5 827.9L937.7 835.7L938.7 827.0L939.8 817.9L940.9 809.0L941.5 805.9L942.0 809.0L943.1 814.4L944.2 818.7L945.3 824.8L945.9 827.0L947.4 818.5L948.5 812.3L949.2 809.8L950.7 814.7L951.8 820.8L952.9 821.2L953.4 825.1L954.0 821.5L955.1 813.4L956.2 808.7L957.5 799.2L958.3 804.1L959.4 810.7L960.7 819.4L961.6 819.5L962.7 820.9L963.6 821.3L964.9 828.2L966.0 831.2L967.1 836.6L968.2 835.4L969.3 829.4L970.3 827.4L971.7 825.1L972.5 826.7L973.6 831.0L974.1 834.7L974.7 832.9L975.8 826.9L976.9 818.8L978.0 813.0L979.1 808.3L980.2 804.0L980.9 799.2L982.3 812.2L983.4 820.4L984.5 828.2L985.7 836.6L986.7 832.2L987.8 830.3L988.9 826.4L989.5 826.1L990.0 827.5L991.1 830.6L992.4 833.7L993.3 831.3L994.3 830.0L995.3 829.9L996.5 812.8L997.6 793.9L998.1 788.7L998.7 795.1L999.8 805.0L1000.4 808.8L1000.9 808.3L1002.0 800.0L1003.5 792.5L1004.2 796.1L1005.3 801.6L1006.2 805.9L1007.4 794.6L1008.5 785.7L1009.6 774.0L1010.2 767.6L1010.7 770.1L1011.8 779.9L1012.9 785.7L1014.0 793.6L1015.0 800.2L1016.2 795.7L1017.3 787.4L1018.3 784.8L1019.4 776.4L1020.5 766.9L1021.5 758.0L1022.7 759.2L1023.8 760.6L1025.0 761.8L1026.0 769.9L1027.1 777.7L1028.2 788.2L1028.8 793.5L1030.4 787.3L1031.7 785.8L1032.5 789.5L1033.6 794.4L1034.7 804.5L1035.8 813.1L1036.5 819.4L1038.0 813.4L1039.1 810.6L1040.0 805.0L1041.3 817.4L1042.6 827.0L1043.4 824.5L1044.5 826.1L1045.1 824.1L1045.6 826.5L1046.7 828.0L1048.0 834.7L1048.9 829.2L1050.0 822.7L1051.1 816.0L1051.8 813.6L1053.3 808.0L1054.4 805.2L1055.4 798.1L1056.5 796.0L1057.2 791.5L1058.7 804.4L1060.1 814.6L1060.9 809.5L1062.0 808.1L1063.1 802.3L1064.2 799.1L1065.3 792.5L1066.4 802.8L1067.4 812.5L1068.5 820.3L1069.1 826.1L1069.6 825.0L1070.7 820.4L1071.8 814.9L1072.9 807.8L1074.0 811.3L1075.1 816.7L1076.4 820.3L1077.3 826.3L1078.7 836.6L1079.4 830.7L1080.5 824.1L1081.6 818.0L1082.5 814.6L1083.8 808.5L1084.9 804.2L1086.0 801.6L1087.1 798.4L1088.2 793.6L1088.7 791.5L1089.3 794.7L1090.4 802.2L1091.4 807.2L1092.5 814.6L1093.6 809.7L1095.0 804.0L1095.8 809.7L1096.4 811.7L1096.9 809.6L1098.0 805.3L1098.8 804.0L1100.2 817.6L1101.3 826.7L1101.7 829.9L1102.4 825.2L1103.4 818.0L1104.5 811.5L1105.9 802.1L1106.7 801.9L1107.8 799.3L1108.9 797.4L1109.4 799.2L1110.0 802.2L1111.1 812.8L1112.3 820.3L1113.3 816.8L1114.4 816.0L1115.2 814.6L1116.5 813.8L1117.6 814.3L1118.7 814.5L1120.0 816.5L1120.9 810.8L1122.0 803.6L1123.2 798.2L1124.2 801.7L1125.7 812.6L1126.4 809.9L1127.4 808.5L1128.5 808.3L1129.6 804.7L1130.1 805.9L1130.7 807.3L1131.8 815.5L1132.4 819.4L1132.9 821.1L1134.0 827.3L1135.1 829.3L1136.3 836.6L1137.3 837.5L1138.4 839.0L1139.1 840.5L1140.5 845.4L1141.6 854.9L1142.7 857.1L1143.5 862.5L1144.9 850.8L1146.0 844.5L1146.8 838.5L1148.2 833.9L1149.7 831.8L1150.4 826.6L1151.4 815.8L1152.5 805.3L1153.5 798.2L1154.7 802.2L1155.4 807.8L1156.9 800.4L1157.7 794.4L1159.1 795.1L1160.2 798.7L1160.8 798.2L1162.4 809.0L1163.1 814.6L1164.5 814.7L1165.4 811.7L1166.7 815.5L1167.8 819.2L1168.9 824.1L1170.0 821.3L1171.2 820.3L1172.2 826.9L1173.3 831.9L1174.6 838.5L1175.4 832.8L1176.5 824.8L1177.6 820.6L1178.5 814.6L1179.8 819.4L1180.8 819.4L1182.0 807.0L1183.1 793.1L1184.2 781.8L1185.2 773.3L1186.4 766.4L1187.4 762.1L1188.5 756.7L1189.6 752.1L1190.9 748.4L1191.8 756.9L1192.9 767.8L1194.0 774.5L1194.8 782.9L1196.2 785.5L1197.6 783.9L1198.4 779.9L1199.6 773.3L1200.5 791.5L1201.5 806.9L1202.7 810.9L1203.8 812.9L1205.3 813.6L1206.0 806.2L1207.1 798.7L1208.2 791.3L1209.2 782.9L1210.4 785.1L1211.4 781.5L1212.5 782.7L1214.0 783.9L1214.7 790.3L1215.9 796.3L1217.2 778.1L1218.0 786.2L1219.1 801.2L1219.7 809.8L1220.2 819.5L1221.6 853.9L1222.4 841.8L1223.0 829.9L1223.4 830.2L1224.5 823.1L1225.5 821.3L1226.7 822.3L1227.8 822.3L1228.3 821.3L1228.9 818.6L1230.0 809.2L1231.1 802.6L1232.2 792.5L1233.3 794.6L1234.1 797.3L1235.4 795.4L1236.5 793.4L1237.6 793.5L1238.7 789.4L1239.9 782.9L1240.9 770.9L1242.0 757.4L1243.1 744.4L1243.7 738.8L1244.2 745.0L1245.6 759.9L1246.4 760.6L1247.4 761.4L1248.5 760.8L1249.6 762.0L1250.4 763.7L1251.4 800.2L1253.3 787.7L1254.0 791.5L1255.2 798.2L1256.2 793.5L1257.3 792.3L1258.1 788.7L1259.4 795.0L1260.5 803.7L1261.5 809.8L1262.7 804.4L1263.8 798.3L1264.9 791.5L1266.0 792.1L1267.1 795.2L1268.2 800.3L1268.8 800.2L1269.3 799.1L1270.4 796.5L1271.4 792.7L1272.5 787.1L1273.0 785.8L1273.6 787.7L1274.7 787.3L1276.1 786.7L1276.9 797.3L1277.4 805.0L1278.0 805.1L1279.1 805.2L1280.2 808.0L1281.2 809.8L1282.4 806.5L1283.4 797.5L1284.5 794.3L1286.0 786.7L1286.7 784.4L1287.8 783.1L1288.9 784.5L1289.9 782.9L1291.1 782.2L1292.2 781.7L1292.8 783.9L1293.3 796.9L1293.7 811.7L1294.4 813.4L1295.4 815.1L1296.5 814.5L1297.6 818.4L1298.7 823.3L1299.8 832.2L1300.9 834.6L1301.8 840.5L1303.1 828.7L1304.3 817.4L1305.3 825.1L1306.8 837.6L1307.4 838.3L1308.5 836.8L1309.4 835.7L1310.7 828.1L1311.8 819.4L1312.9 810.3L1314.0 802.6L1314.8 798.2L1316.2 809.0L1317.7 825.1L1318.4 828.0L1319.4 827.4L1320.2 830.9L1321.6 823.2L1322.7 823.2L1323.8 815.6L1324.4 814.6L1324.9 814.5L1326.0 807.0L1327.3 804.0L1328.2 819.4L1329.3 813.2L1330.4 805.7L1331.4 802.0L1332.5 794.6L1333.6 787.7L1334.7 792.1L1335.8 796.3L1336.9 800.5L1337.8 802.1L1338.8 793.5L1340.2 806.9L1341.7 823.2L1342.4 827.7L1343.6 834.7L1344.5 831.3L1345.6 826.2L1346.5 825.1L1347.8 827.0L1348.9 826.3L1349.4 826.1L1350.0 830.9L1351.1 834.1L1352.2 841.5L1353.3 847.0L1354.1 852.0L1355.4 840.4L1356.5 827.0L1357.4 820.3L1358.7 826.5L1359.8 832.8L1361.2 840.5L1362.0 833.7L1363.1 828.7L1363.7 824.1L1365.3 820.1L1366.6 814.6L1367.4 821.4L1368.2 828.0L1369.6 817.9L1370.7 809.8L1371.8 800.2L1372.4 797.3L1372.9 795.1L1374.0 794.6L1375.1 788.4L1376.2 785.8L1377.3 784.6L1378.4 782.2L1379.4 781.8L1380.5 780.7L1382.0 781.0L1382.7 787.1L1383.8 792.3L1384.9 799.0L1386.0 805.6L1386.8 807.8L1388.2 815.0L1389.3 821.5L1390.0 823.2L1391.4 810.2L1392.5 800.2L1393.6 792.4L1394.7 787.5L1395.4 781.0L1396.9 782.8L1398.0 783.0L1399.2 781.0L1400.2 789.0L1401.3 799.8L1402.1 805.9L1403.4 801.4L1404.6 798.2L1405.6 808.5L1406.9 816.5L1407.8 813.1L1408.9 804.1L1410.0 800.7L1410.7 794.4L1412.2 802.1L1413.3 808.7L1414.2 816.5L1415.4 809.1L1416.5 801.1L1417.6 805.1L1418.7 810.8L1419.4 813.6L1420.9 820.8L1422.3 826.1L1423.1 818.8L1424.2 815.0L1425.1 807.8L1426.4 811.3L1427.4 816.0L1428.0 818.4L1428.5 812.6L1429.6 803.8L1430.7 793.2L1431.3 786.7L1431.8 790.3L1432.9 798.8L1433.8 807.8L1435.1 804.3L1435.7 804.0L1436.2 805.1L1437.3 806.9L1438.4 810.5L1439.5 815.5L1440.5 816.5L1441.6 816.0L1442.7 817.0L1443.8 816.8L1444.3 814.6L1444.9 812.3L1446.0 802.7L1447.1 794.4L1448.2 788.7L1449.3 791.7L1450.1 795.4L1451.4 782.7L1452.5 773.0L1453.3 765.6L1454.7 780.2L1455.8 791.5L1456.9 779.0L1458.3 763.7L1459.1 770.2L1460.2 774.7L1461.6 784.8L1462.4 785.2L1463.4 787.8L1464.5 786.7L1465.6 783.2L1466.8 777.1L1467.8 786.1L1468.9 796.2L1470.2 809.8L1471.1 806.5L1472.2 797.2L1473.1 794.4L1474.4 802.2L1475.0 808.8L1476.5 799.0L1477.6 792.0L1478.8 783.9L1479.8 784.3L1480.8 787.7L1482.0 781.0L1483.3 778.1L1484.2 784.6L1485.3 796.4L1486.5 805.9L1487.4 804.9L1488.5 806.0L1489.4 803.0L1490.7 811.4L1491.7 815.5L1492.9 814.3L1494.0 807.1L1495.2 805.9L1496.2 800.9L1497.3 796.3L1498.4 794.2L1499.4 789.9L1500.5 786.7L1501.6 793.0L1502.4 801.1L1503.8 790.0L1504.7 781.9L1506.0 797.1L1507.1 813.0L1507.6 821.3L1508.2 815.8L1509.3 809.5L1510.5 798.2L1511.4 799.8L1512.5 801.3L1513.4 804.0L1514.7 798.9L1515.8 798.0L1516.3 797.3L1516.9 791.9L1517.8 782.9L1519.1 783.3L1520.2 784.0L1521.1 781.9L1522.4 777.8L1523.5 771.4L1524.5 775.2L1525.6 780.2L1526.2 784.8L1526.7 784.8L1527.8 782.2L1529.3 777.1L1530.0 773.2L1531.1 768.2L1532.6 758.0L1533.3 754.0L1534.4 746.3L1535.4 740.7" stroke="#977bd2" stroke-width="1.65" fill="none" stroke-linejoin="round" opacity=".9" filter="url(#bl2)"/>
</g>
<g class="ax">
<text x="1992" y="752.9" font-size="12.6" textLength="33.3">80.00</text>
<text x="1992" y="793" font-size="12.6" textLength="33.3">60.00</text>
<text x="1992" y="834.1" font-size="12.6" textLength="33.3">40.00</text>
<text x="1992" y="874.5" font-size="12.6" textLength="33.3">20.00</text>
</g>
<rect x="1983.8" y="733" width="47.4" height="18.3" rx="1.5" fill="#7e57c2"/>
<text x="2007.5" y="746.6" font-size="12" fill="#fff" text-anchor="middle">83.25</text>

<!-- time axis -->
<g class="tm">
<text x="260.6" y="900">2003</text>
<text x="374.1" y="900">2005</text>
<text x="487.2" y="900">2007</text>
<text x="601" y="900">2009</text>
<text x="712.7" y="900">2011</text>
<text x="827.1" y="900">2013</text>
<text x="940.4" y="900">2015</text>
<text x="1050.5" y="900">2017</text>
<text x="1154.6" y="900">2019</text>
<text x="1267.4" y="900">2021</text>
<text x="1381.2" y="900">2023</text>
<text x="1495" y="900">2025</text>
<text x="1608.2" y="900">2027</text>
<text x="1721.4" y="900">2029</text>
<text x="1834.8" y="900">2031</text>
<text x="1948.7" y="900">2033</text>
</g>
<g fill="none" stroke="#5a5d68" stroke-width="1.3" stroke-linejoin="round">
<path d="M2006 896.4L2009.8 889.7H2018.6L2022.4 896.4L2018.6 903.1H2009.8Z"/>
<circle cx="2014.2" cy="896.4" r="2.3" stroke-width="1.4"/>
</g>

<!-- brand logo -->
<path d="M136.3 968.2A34.6 34.6 0 1 0 170.9 1002.8H156.6A20.3 20.3 0 1 1 136.3 982.5Z" fill="#9d3f98"/>
<g font-weight="700" fill="#0c2f4b" stroke="#0c2f4b" stroke-width="1.7" stroke-linejoin="round">
<text x="195.4" y="1019.6" font-size="52.8" textLength="32.5" lengthAdjust="spacingAndGlyphs">L</text>
<text x="228.6" y="1019.6" font-size="55.6" textLength="210" lengthAdjust="spacingAndGlyphs">earning</text>
</g>
<text x="196.2" y="1048" font-size="19.5" font-weight="700" fill="#cc2229" stroke="#cc2229" stroke-width=".7" textLength="96.8" lengthAdjust="spacingAndGlyphs">CHARISMA</text>
<!-- graduation cap -->
<path d="M419.5 971L439 981.2L432.4 984.7V989.6Q420 983.6 408.5 989.6V984.9L401 982.4Z" fill="#0c2f4b"/>
<path d="M435.1 982.6h1.3v8l1 2.2h-3.3l1-2.2z" fill="#0c2f4b"/>
</svg>
<div class="fa" id="ttl">انس نقره (دلار/ انس)</div>
<div class="fa" id="plbl">انس نقره (دلار/ انس)</div>
</body>
</html>
